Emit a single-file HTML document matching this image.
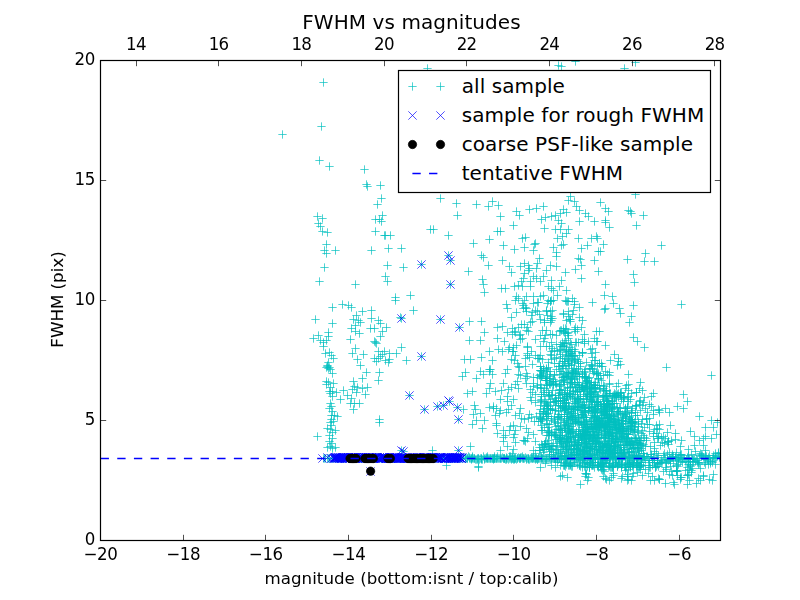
<!DOCTYPE html>
<html><head><meta charset="utf-8"><title>FWHM vs magnitudes</title>
<style>
html,body{margin:0;padding:0;background:#fff;}
svg{display:block;}
text{font-family:"DejaVu Sans","Liberation Sans",sans-serif;fill:#000;}
.txt{opacity:0.999;}
.t12{font-size:16.67px;}
.t14{font-size:20px;letter-spacing:0.08px;}
</style></head><body>
<svg width="800" height="600" viewBox="0 0 800 600">
<rect width="800" height="600" fill="#fff"/>
<defs><path id="p" d="M-4.17 0H4.17M0-4.17V4.17"/><path id="x" d="M-4.17-4.17L4.17 4.17M-4.17 4.17L4.17-4.17"/><clipPath id="ax"><rect x="100" y="60" width="620.5" height="480.5"/></clipPath></defs>

<g clip-path="url(#ax)">
<g stroke="#00bfbf" stroke-width="0.69" fill="none"><use href="#p" x="427.5" y="68.5"/><use href="#p" x="558.5" y="65.5"/><use href="#p" x="561.5" y="66.5"/><use href="#p" x="624.5" y="68.5"/><use href="#p" x="635.5" y="62.5"/><use href="#p" x="575.5" y="61.5"/><use href="#p" x="323.5" y="82.5"/><use href="#p" x="321.5" y="126.5"/><use href="#p" x="282.5" y="134.5"/><use href="#p" x="319.5" y="160.5"/><use href="#p" x="329.5" y="166.5"/><use href="#p" x="364.5" y="169.5"/><use href="#p" x="366.5" y="184.5"/><use href="#p" x="367.5" y="186.5"/><use href="#p" x="380.5" y="185.5"/><use href="#p" x="381.5" y="198.5"/><use href="#p" x="377.5" y="204.5"/><use href="#p" x="382.5" y="215.5"/><use href="#p" x="375.5" y="219.5"/><use href="#p" x="379.5" y="219.5"/><use href="#p" x="381.5" y="221.5"/><use href="#p" x="375.5" y="231.5"/><use href="#p" x="384.5" y="235.5"/><use href="#p" x="385.5" y="235.5"/><use href="#p" x="390.5" y="235.5"/><use href="#p" x="371.5" y="250.5"/><use href="#p" x="388.5" y="248.5"/><use href="#p" x="401.5" y="248.5"/><use href="#p" x="387.5" y="265.5"/><use href="#p" x="403.5" y="267.5"/><use href="#p" x="385.5" y="276.5"/><use href="#p" x="387.5" y="281.5"/><use href="#p" x="355.5" y="284.5"/><use href="#p" x="395.5" y="297.5"/><use href="#p" x="410.5" y="295.5"/><use href="#p" x="421.5" y="264.5"/><use href="#p" x="430.5" y="229.5"/><use href="#p" x="317.5" y="216.5"/><use href="#p" x="322.5" y="218.5"/><use href="#p" x="318.5" y="223.5"/><use href="#p" x="320.5" y="226.5"/><use href="#p" x="322.5" y="231.5"/><use href="#p" x="327.5" y="232.5"/><use href="#p" x="326.5" y="244.5"/><use href="#p" x="324.5" y="250.5"/><use href="#p" x="326.5" y="253.5"/><use href="#p" x="335.5" y="250.5"/><use href="#p" x="324.5" y="267.5"/><use href="#p" x="319.5" y="281.5"/><use href="#p" x="332.5" y="307.5"/><use href="#p" x="342.5" y="304.5"/><use href="#p" x="348.5" y="305.5"/><use href="#p" x="351.5" y="307.5"/><use href="#p" x="315.5" y="319.5"/><use href="#p" x="332.5" y="323.5"/><use href="#p" x="362.5" y="311.5"/><use href="#p" x="371.5" y="310.5"/><use href="#p" x="371.5" y="318.5"/><use href="#p" x="356.5" y="315.5"/><use href="#p" x="353.5" y="319.5"/><use href="#p" x="358.5" y="320.5"/><use href="#p" x="360.5" y="322.5"/><use href="#p" x="355.5" y="325.5"/><use href="#p" x="351.5" y="328.5"/><use href="#p" x="355.5" y="331.5"/><use href="#p" x="359.5" y="333.5"/><use href="#p" x="350.5" y="339.5"/><use href="#p" x="378.5" y="320.5"/><use href="#p" x="380.5" y="323.5"/><use href="#p" x="370.5" y="328.5"/><use href="#p" x="374.5" y="328.5"/><use href="#p" x="386.5" y="327.5"/><use href="#p" x="382.5" y="331.5"/><use href="#p" x="380.5" y="336.5"/><use href="#p" x="375.5" y="342.5"/><use href="#p" x="376.5" y="343.5"/><use href="#p" x="374.5" y="341.5"/><use href="#p" x="400.5" y="317.5"/><use href="#p" x="413.5" y="310.5"/><use href="#p" x="395.5" y="300.5"/><use href="#p" x="401.5" y="347.5"/><use href="#p" x="406.5" y="360.5"/><use href="#p" x="421.5" y="356.5"/><use href="#p" x="409.5" y="395.5"/><use href="#p" x="424.5" y="409.5"/><use href="#p" x="355.5" y="348.5"/><use href="#p" x="352.5" y="353.5"/><use href="#p" x="363.5" y="354.5"/><use href="#p" x="357.5" y="359.5"/><use href="#p" x="360.5" y="365.5"/><use href="#p" x="366.5" y="372.5"/><use href="#p" x="362.5" y="378.5"/><use href="#p" x="379.5" y="372.5"/><use href="#p" x="378.5" y="380.5"/><use href="#p" x="378.5" y="351.5"/><use href="#p" x="384.5" y="351.5"/><use href="#p" x="382.5" y="354.5"/><use href="#p" x="389.5" y="353.5"/><use href="#p" x="396.5" y="353.5"/><use href="#p" x="374.5" y="358.5"/><use href="#p" x="378.5" y="358.5"/><use href="#p" x="376.5" y="361.5"/><use href="#p" x="385.5" y="360.5"/><use href="#p" x="389.5" y="359.5"/><use href="#p" x="388.5" y="362.5"/><use href="#p" x="380.5" y="356.5"/><use href="#p" x="313.5" y="338.5"/><use href="#p" x="318.5" y="335.5"/><use href="#p" x="328.5" y="332.5"/><use href="#p" x="328.5" y="336.5"/><use href="#p" x="320.5" y="340.5"/><use href="#p" x="323.5" y="342.5"/><use href="#p" x="326.5" y="340.5"/><use href="#p" x="323.5" y="346.5"/><use href="#p" x="325.5" y="353.5"/><use href="#p" x="329.5" y="352.5"/><use href="#p" x="331.5" y="355.5"/><use href="#p" x="333.5" y="358.5"/><use href="#p" x="328.5" y="362.5"/><use href="#p" x="327.5" y="365.5"/><use href="#p" x="326.5" y="367.5"/><use href="#p" x="329.5" y="367.5"/><use href="#p" x="330.5" y="369.5"/><use href="#p" x="327.5" y="366.5"/><use href="#p" x="328.5" y="368.5"/><use href="#p" x="332.5" y="373.5"/><use href="#p" x="326.5" y="381.5"/><use href="#p" x="328.5" y="382.5"/><use href="#p" x="326.5" y="384.5"/><use href="#p" x="333.5" y="383.5"/><use href="#p" x="330.5" y="387.5"/><use href="#p" x="329.5" y="391.5"/><use href="#p" x="332.5" y="391.5"/><use href="#p" x="330.5" y="393.5"/><use href="#p" x="336.5" y="392.5"/><use href="#p" x="332.5" y="396.5"/><use href="#p" x="340.5" y="399.5"/><use href="#p" x="330.5" y="403.5"/><use href="#p" x="331.5" y="406.5"/><use href="#p" x="329.5" y="408.5"/><use href="#p" x="332.5" y="411.5"/><use href="#p" x="331.5" y="415.5"/><use href="#p" x="334.5" y="415.5"/><use href="#p" x="337.5" y="416.5"/><use href="#p" x="331.5" y="419.5"/><use href="#p" x="353.5" y="381.5"/><use href="#p" x="354.5" y="386.5"/><use href="#p" x="357.5" y="387.5"/><use href="#p" x="352.5" y="389.5"/><use href="#p" x="356.5" y="392.5"/><use href="#p" x="362.5" y="388.5"/><use href="#p" x="367.5" y="387.5"/><use href="#p" x="365.5" y="394.5"/><use href="#p" x="343.5" y="390.5"/><use href="#p" x="347.5" y="395.5"/><use href="#p" x="351.5" y="398.5"/><use href="#p" x="350.5" y="403.5"/><use href="#p" x="354.5" y="403.5"/><use href="#p" x="359.5" y="403.5"/><use href="#p" x="353.5" y="409.5"/><use href="#p" x="379.5" y="419.5"/><use href="#p" x="379.5" y="422.5"/><use href="#p" x="317.5" y="436.5"/><use href="#p" x="330.5" y="422.5"/><use href="#p" x="333.5" y="421.5"/><use href="#p" x="327.5" y="428.5"/><use href="#p" x="330.5" y="429.5"/><use href="#p" x="335.5" y="430.5"/><use href="#p" x="332.5" y="432.5"/><use href="#p" x="329.5" y="435.5"/><use href="#p" x="332.5" y="438.5"/><use href="#p" x="327.5" y="447.5"/><use href="#p" x="330.5" y="446.5"/><use href="#p" x="332.5" y="448.5"/><use href="#p" x="335.5" y="447.5"/><use href="#p" x="331.5" y="425.5"/><use href="#p" x="329.5" y="441.5"/><use href="#p" x="331.5" y="443.5"/><use href="#p" x="401.5" y="450.5"/><use href="#p" x="432.5" y="450.5"/><use href="#p" x="446.5" y="465.5"/><use href="#p" x="478.5" y="466.5"/><use href="#p" x="440.5" y="198.5"/><use href="#p" x="456.5" y="203.5"/><use href="#p" x="457.5" y="215.5"/><use href="#p" x="433.5" y="229.5"/><use href="#p" x="448.5" y="235.5"/><use href="#p" x="476.5" y="204.5"/><use href="#p" x="488.5" y="206.5"/><use href="#p" x="492.5" y="201.5"/><use href="#p" x="498.5" y="205.5"/><use href="#p" x="500.5" y="216.5"/><use href="#p" x="473.5" y="243.5"/><use href="#p" x="489.5" y="239.5"/><use href="#p" x="497.5" y="231.5"/><use href="#p" x="500.5" y="231.5"/><use href="#p" x="513.5" y="225.5"/><use href="#p" x="516.5" y="211.5"/><use href="#p" x="519.5" y="215.5"/><use href="#p" x="529.5" y="209.5"/><use href="#p" x="536.5" y="208.5"/><use href="#p" x="543.5" y="206.5"/><use href="#p" x="522.5" y="238.5"/><use href="#p" x="525.5" y="237.5"/><use href="#p" x="544.5" y="228.5"/><use href="#p" x="541.5" y="219.5"/><use href="#p" x="545.5" y="217.5"/><use href="#p" x="551.5" y="216.5"/><use href="#p" x="555.5" y="215.5"/><use href="#p" x="570.5" y="196.5"/><use href="#p" x="568.5" y="200.5"/><use href="#p" x="574.5" y="201.5"/><use href="#p" x="576.5" y="206.5"/><use href="#p" x="563.5" y="209.5"/><use href="#p" x="560.5" y="213.5"/><use href="#p" x="566.5" y="212.5"/><use href="#p" x="558.5" y="220.5"/><use href="#p" x="561.5" y="223.5"/><use href="#p" x="555.5" y="229.5"/><use href="#p" x="560.5" y="229.5"/><use href="#p" x="568.5" y="229.5"/><use href="#p" x="566.5" y="233.5"/><use href="#p" x="557.5" y="238.5"/><use href="#p" x="562.5" y="236.5"/><use href="#p" x="579.5" y="210.5"/><use href="#p" x="585.5" y="213.5"/><use href="#p" x="588.5" y="216.5"/><use href="#p" x="579.5" y="221.5"/><use href="#p" x="578.5" y="238.5"/><use href="#p" x="481.5" y="255.5"/><use href="#p" x="483.5" y="257.5"/><use href="#p" x="488.5" y="265.5"/><use href="#p" x="468.5" y="271.5"/><use href="#p" x="482.5" y="279.5"/><use href="#p" x="483.5" y="284.5"/><use href="#p" x="484.5" y="292.5"/><use href="#p" x="448.5" y="255.5"/><use href="#p" x="450.5" y="260.5"/><use href="#p" x="450.5" y="284.5"/><use href="#p" x="635.5" y="194.5"/><use href="#p" x="600.5" y="202.5"/><use href="#p" x="605.5" y="208.5"/><use href="#p" x="608.5" y="211.5"/><use href="#p" x="628.5" y="210.5"/><use href="#p" x="630.5" y="211.5"/><use href="#p" x="631.5" y="213.5"/><use href="#p" x="643.5" y="215.5"/><use href="#p" x="594.5" y="221.5"/><use href="#p" x="605.5" y="220.5"/><use href="#p" x="605.5" y="222.5"/><use href="#p" x="609.5" y="227.5"/><use href="#p" x="636.5" y="225.5"/><use href="#p" x="596.5" y="236.5"/><use href="#p" x="597.5" y="238.5"/><use href="#p" x="591.5" y="238.5"/><use href="#p" x="603.5" y="244.5"/><use href="#p" x="600.5" y="251.5"/><use href="#p" x="661.5" y="245.5"/><use href="#p" x="645.5" y="253.5"/><use href="#p" x="627.5" y="259.5"/><use href="#p" x="644.5" y="261.5"/><use href="#p" x="654.5" y="261.5"/><use href="#p" x="633.5" y="274.5"/><use href="#p" x="634.5" y="282.5"/><use href="#p" x="605.5" y="284.5"/><use href="#p" x="604.5" y="295.5"/><use href="#p" x="612.5" y="296.5"/><use href="#p" x="681.5" y="304.5"/><use href="#p" x="633.5" y="305.5"/><use href="#p" x="613.5" y="303.5"/><use href="#p" x="619.5" y="308.5"/><use href="#p" x="605.5" y="308.5"/><use href="#p" x="604.5" y="309.5"/><use href="#p" x="620.5" y="313.5"/><use href="#p" x="631.5" y="316.5"/><use href="#p" x="629.5" y="322.5"/><use href="#p" x="592.5" y="302.5"/><use href="#p" x="633.5" y="337.5"/><use href="#p" x="637.5" y="341.5"/><use href="#p" x="644.5" y="347.5"/><use href="#p" x="605.5" y="345.5"/><use href="#p" x="614.5" y="354.5"/><use href="#p" x="618.5" y="358.5"/><use href="#p" x="620.5" y="364.5"/><use href="#p" x="666.5" y="367.5"/><use href="#p" x="711.5" y="375.5"/><use href="#p" x="628.5" y="374.5"/><use href="#p" x="683.5" y="394.5"/><use href="#p" x="687.5" y="401.5"/><use href="#p" x="677.5" y="406.5"/><use href="#p" x="683.5" y="408.5"/><use href="#p" x="665.5" y="408.5"/><use href="#p" x="669.5" y="412.5"/><use href="#p" x="699.5" y="416.5"/><use href="#p" x="472.5" y="424.5"/><use href="#p" x="476.5" y="420.5"/><use href="#p" x="470.5" y="446.5"/><use href="#p" x="478.5" y="467.5"/><use href="#p" x="440.5" y="319.5"/><use href="#p" x="459.5" y="327.5"/><use href="#p" x="437.5" y="406.5"/><use href="#p" x="443.5" y="405.5"/><use href="#p" x="449.5" y="401.5"/><use href="#p" x="457.5" y="407.5"/><use href="#p" x="458.5" y="419.5"/><use href="#p" x="458.5" y="450.5"/><use href="#p" x="403.5" y="451.5"/><use href="#p" x="401.5" y="318.5"/><use href="#p" x="503.5" y="245.5"/><use href="#p" x="514.5" y="249.5"/><use href="#p" x="524.5" y="247.5"/><use href="#p" x="534.5" y="244.5"/><use href="#p" x="535.5" y="243.5"/><use href="#p" x="533.5" y="250.5"/><use href="#p" x="553.5" y="247.5"/><use href="#p" x="556.5" y="252.5"/><use href="#p" x="556.5" y="256.5"/><use href="#p" x="561.5" y="245.5"/><use href="#p" x="563.5" y="244.5"/><use href="#p" x="581.5" y="248.5"/><use href="#p" x="587.5" y="245.5"/><use href="#p" x="578.5" y="258.5"/><use href="#p" x="580.5" y="259.5"/><use href="#p" x="581.5" y="265.5"/><use href="#p" x="594.5" y="260.5"/><use href="#p" x="598.5" y="251.5"/><use href="#p" x="598.5" y="271.5"/><use href="#p" x="575.5" y="269.5"/><use href="#p" x="581.5" y="278.5"/><use href="#p" x="502.5" y="260.5"/><use href="#p" x="509.5" y="266.5"/><use href="#p" x="511.5" y="272.5"/><use href="#p" x="520.5" y="266.5"/><use href="#p" x="524.5" y="263.5"/><use href="#p" x="528.5" y="265.5"/><use href="#p" x="529.5" y="268.5"/><use href="#p" x="539.5" y="258.5"/><use href="#p" x="537.5" y="263.5"/><use href="#p" x="536.5" y="268.5"/><use href="#p" x="550.5" y="265.5"/><use href="#p" x="556.5" y="266.5"/><use href="#p" x="546.5" y="270.5"/><use href="#p" x="565.5" y="272.5"/><use href="#p" x="524.5" y="273.5"/><use href="#p" x="523.5" y="278.5"/><use href="#p" x="533.5" y="276.5"/><use href="#p" x="536.5" y="278.5"/><use href="#p" x="543.5" y="276.5"/><use href="#p" x="540.5" y="281.5"/><use href="#p" x="551.5" y="280.5"/><use href="#p" x="561.5" y="280.5"/><use href="#p" x="518.5" y="285.5"/><use href="#p" x="514.5" y="286.5"/><use href="#p" x="505.5" y="288.5"/><use href="#p" x="501.5" y="288.5"/><use href="#p" x="522.5" y="286.5"/><use href="#p" x="530.5" y="286.5"/><use href="#p" x="548.5" y="286.5"/><use href="#p" x="551.5" y="288.5"/><use href="#p" x="553.5" y="290.5"/><use href="#p" x="559.5" y="286.5"/><use href="#p" x="566.5" y="290.5"/><use href="#p" x="516.5" y="296.5"/><use href="#p" x="518.5" y="298.5"/><use href="#p" x="526.5" y="296.5"/><use href="#p" x="533.5" y="296.5"/><use href="#p" x="540.5" y="296.5"/><use href="#p" x="543.5" y="295.5"/><use href="#p" x="557.5" y="295.5"/><use href="#p" x="572.5" y="298.5"/><use href="#p" x="528.5" y="270.5"/><use href="#p" x="521.5" y="281.5"/><use href="#p" x="530.5" y="281.5"/><use href="#p" x="469.5" y="321.5"/><use href="#p" x="469.5" y="340.5"/><use href="#p" x="464.5" y="359.5"/><use href="#p" x="470.5" y="359.5"/><use href="#p" x="465.5" y="372.5"/><use href="#p" x="462.5" y="376.5"/><use href="#p" x="476.5" y="378.5"/><use href="#p" x="467.5" y="393.5"/><use href="#p" x="472.5" y="391.5"/><use href="#p" x="474.5" y="405.5"/><use href="#p" x="463.5" y="409.5"/><use href="#p" x="475.5" y="409.5"/><use href="#p" x="473.5" y="414.5"/><use href="#p" x="506.5" y="304.5"/><use href="#p" x="515.5" y="300.5"/><use href="#p" x="507.5" y="308.5"/><use href="#p" x="516.5" y="312.5"/><use href="#p" x="511.5" y="317.5"/><use href="#p" x="524.5" y="300.5"/><use href="#p" x="522.5" y="303.5"/><use href="#p" x="533.5" y="303.5"/><use href="#p" x="538.5" y="302.5"/><use href="#p" x="537.5" y="302.5"/><use href="#p" x="523.5" y="305.5"/><use href="#p" x="523.5" y="308.5"/><use href="#p" x="526.5" y="308.5"/><use href="#p" x="525.5" y="307.5"/><use href="#p" x="526.5" y="311.5"/><use href="#p" x="532.5" y="312.5"/><use href="#p" x="537.5" y="311.5"/><use href="#p" x="539.5" y="314.5"/><use href="#p" x="535.5" y="310.5"/><use href="#p" x="531.5" y="315.5"/><use href="#p" x="547.5" y="303.5"/><use href="#p" x="548.5" y="300.5"/><use href="#p" x="551.5" y="300.5"/><use href="#p" x="553.5" y="300.5"/><use href="#p" x="550.5" y="301.5"/><use href="#p" x="550.5" y="301.5"/><use href="#p" x="546.5" y="311.5"/><use href="#p" x="546.5" y="310.5"/><use href="#p" x="552.5" y="310.5"/><use href="#p" x="550.5" y="311.5"/><use href="#p" x="540.5" y="319.5"/><use href="#p" x="547.5" y="315.5"/><use href="#p" x="551.5" y="316.5"/><use href="#p" x="550.5" y="318.5"/><use href="#p" x="552.5" y="318.5"/><use href="#p" x="568.5" y="301.5"/><use href="#p" x="567.5" y="301.5"/><use href="#p" x="565.5" y="300.5"/><use href="#p" x="566.5" y="301.5"/><use href="#p" x="574.5" y="304.5"/><use href="#p" x="574.5" y="301.5"/><use href="#p" x="579.5" y="307.5"/><use href="#p" x="563.5" y="314.5"/><use href="#p" x="563.5" y="313.5"/><use href="#p" x="568.5" y="311.5"/><use href="#p" x="572.5" y="314.5"/><use href="#p" x="573.5" y="310.5"/><use href="#p" x="569.5" y="319.5"/><use href="#p" x="568.5" y="316.5"/><use href="#p" x="570.5" y="319.5"/><use href="#p" x="579.5" y="317.5"/><use href="#p" x="481.5" y="321.5"/><use href="#p" x="497.5" y="327.5"/><use href="#p" x="484.5" y="332.5"/><use href="#p" x="497.5" y="338.5"/><use href="#p" x="502.5" y="326.5"/><use href="#p" x="512.5" y="328.5"/><use href="#p" x="518.5" y="327.5"/><use href="#p" x="507.5" y="332.5"/><use href="#p" x="514.5" y="331.5"/><use href="#p" x="512.5" y="334.5"/><use href="#p" x="515.5" y="332.5"/><use href="#p" x="519.5" y="335.5"/><use href="#p" x="524.5" y="324.5"/><use href="#p" x="521.5" y="324.5"/><use href="#p" x="530.5" y="322.5"/><use href="#p" x="532.5" y="321.5"/><use href="#p" x="527.5" y="327.5"/><use href="#p" x="520.5" y="334.5"/><use href="#p" x="526.5" y="330.5"/><use href="#p" x="528.5" y="331.5"/><use href="#p" x="520.5" y="339.5"/><use href="#p" x="522.5" y="338.5"/><use href="#p" x="535.5" y="339.5"/><use href="#p" x="544.5" y="320.5"/><use href="#p" x="544.5" y="322.5"/><use href="#p" x="550.5" y="322.5"/><use href="#p" x="551.5" y="320.5"/><use href="#p" x="542.5" y="330.5"/><use href="#p" x="546.5" y="330.5"/><use href="#p" x="552.5" y="334.5"/><use href="#p" x="550.5" y="334.5"/><use href="#p" x="559.5" y="331.5"/><use href="#p" x="544.5" y="338.5"/><use href="#p" x="540.5" y="335.5"/><use href="#p" x="545.5" y="335.5"/><use href="#p" x="556.5" y="335.5"/><use href="#p" x="566.5" y="320.5"/><use href="#p" x="570.5" y="321.5"/><use href="#p" x="563.5" y="328.5"/><use href="#p" x="566.5" y="329.5"/><use href="#p" x="565.5" y="328.5"/><use href="#p" x="574.5" y="329.5"/><use href="#p" x="575.5" y="327.5"/><use href="#p" x="577.5" y="329.5"/><use href="#p" x="563.5" y="331.5"/><use href="#p" x="560.5" y="330.5"/><use href="#p" x="561.5" y="330.5"/><use href="#p" x="564.5" y="332.5"/><use href="#p" x="565.5" y="333.5"/><use href="#p" x="568.5" y="332.5"/><use href="#p" x="567.5" y="333.5"/><use href="#p" x="575.5" y="331.5"/><use href="#p" x="568.5" y="338.5"/><use href="#p" x="568.5" y="335.5"/><use href="#p" x="582.5" y="320.5"/><use href="#p" x="581.5" y="327.5"/><use href="#p" x="584.5" y="334.5"/><use href="#p" x="596.5" y="331.5"/><use href="#p" x="599.5" y="331.5"/><use href="#p" x="582.5" y="339.5"/><use href="#p" x="594.5" y="338.5"/><use href="#p" x="480.5" y="340.5"/><use href="#p" x="498.5" y="349.5"/><use href="#p" x="489.5" y="351.5"/><use href="#p" x="481.5" y="357.5"/><use href="#p" x="504.5" y="341.5"/><use href="#p" x="508.5" y="349.5"/><use href="#p" x="509.5" y="347.5"/><use href="#p" x="513.5" y="347.5"/><use href="#p" x="516.5" y="345.5"/><use href="#p" x="502.5" y="351.5"/><use href="#p" x="513.5" y="351.5"/><use href="#p" x="512.5" y="351.5"/><use href="#p" x="511.5" y="359.5"/><use href="#p" x="515.5" y="355.5"/><use href="#p" x="527.5" y="347.5"/><use href="#p" x="527.5" y="346.5"/><use href="#p" x="527.5" y="353.5"/><use href="#p" x="531.5" y="351.5"/><use href="#p" x="525.5" y="358.5"/><use href="#p" x="529.5" y="357.5"/><use href="#p" x="527.5" y="355.5"/><use href="#p" x="535.5" y="355.5"/><use href="#p" x="537.5" y="358.5"/><use href="#p" x="539.5" y="358.5"/><use href="#p" x="538.5" y="358.5"/><use href="#p" x="543.5" y="341.5"/><use href="#p" x="551.5" y="342.5"/><use href="#p" x="556.5" y="344.5"/><use href="#p" x="540.5" y="346.5"/><use href="#p" x="549.5" y="346.5"/><use href="#p" x="546.5" y="346.5"/><use href="#p" x="552.5" y="348.5"/><use href="#p" x="550.5" y="354.5"/><use href="#p" x="554.5" y="350.5"/><use href="#p" x="551.5" y="351.5"/><use href="#p" x="557.5" y="351.5"/><use href="#p" x="559.5" y="350.5"/><use href="#p" x="542.5" y="359.5"/><use href="#p" x="540.5" y="355.5"/><use href="#p" x="551.5" y="359.5"/><use href="#p" x="551.5" y="355.5"/><use href="#p" x="554.5" y="358.5"/><use href="#p" x="556.5" y="357.5"/><use href="#p" x="562.5" y="342.5"/><use href="#p" x="560.5" y="344.5"/><use href="#p" x="564.5" y="343.5"/><use href="#p" x="566.5" y="343.5"/><use href="#p" x="565.5" y="340.5"/><use href="#p" x="570.5" y="342.5"/><use href="#p" x="571.5" y="344.5"/><use href="#p" x="575.5" y="342.5"/><use href="#p" x="578.5" y="342.5"/><use href="#p" x="576.5" y="342.5"/><use href="#p" x="564.5" y="346.5"/><use href="#p" x="562.5" y="346.5"/><use href="#p" x="563.5" y="345.5"/><use href="#p" x="561.5" y="346.5"/><use href="#p" x="560.5" y="349.5"/><use href="#p" x="569.5" y="347.5"/><use href="#p" x="566.5" y="349.5"/><use href="#p" x="572.5" y="349.5"/><use href="#p" x="574.5" y="349.5"/><use href="#p" x="560.5" y="354.5"/><use href="#p" x="568.5" y="354.5"/><use href="#p" x="565.5" y="352.5"/><use href="#p" x="568.5" y="351.5"/><use href="#p" x="566.5" y="350.5"/><use href="#p" x="566.5" y="351.5"/><use href="#p" x="571.5" y="353.5"/><use href="#p" x="570.5" y="351.5"/><use href="#p" x="571.5" y="353.5"/><use href="#p" x="575.5" y="351.5"/><use href="#p" x="560.5" y="358.5"/><use href="#p" x="562.5" y="356.5"/><use href="#p" x="567.5" y="359.5"/><use href="#p" x="569.5" y="356.5"/><use href="#p" x="565.5" y="358.5"/><use href="#p" x="566.5" y="355.5"/><use href="#p" x="570.5" y="355.5"/><use href="#p" x="572.5" y="358.5"/><use href="#p" x="574.5" y="355.5"/><use href="#p" x="573.5" y="356.5"/><use href="#p" x="572.5" y="355.5"/><use href="#p" x="577.5" y="359.5"/><use href="#p" x="579.5" y="355.5"/><use href="#p" x="575.5" y="359.5"/><use href="#p" x="584.5" y="341.5"/><use href="#p" x="584.5" y="343.5"/><use href="#p" x="588.5" y="341.5"/><use href="#p" x="596.5" y="341.5"/><use href="#p" x="597.5" y="341.5"/><use href="#p" x="592.5" y="348.5"/><use href="#p" x="590.5" y="349.5"/><use href="#p" x="582.5" y="352.5"/><use href="#p" x="582.5" y="353.5"/><use href="#p" x="582.5" y="352.5"/><use href="#p" x="591.5" y="353.5"/><use href="#p" x="595.5" y="352.5"/><use href="#p" x="592.5" y="357.5"/><use href="#p" x="492.5" y="360.5"/><use href="#p" x="489.5" y="369.5"/><use href="#p" x="490.5" y="369.5"/><use href="#p" x="483.5" y="374.5"/><use href="#p" x="480.5" y="371.5"/><use href="#p" x="489.5" y="371.5"/><use href="#p" x="492.5" y="374.5"/><use href="#p" x="514.5" y="360.5"/><use href="#p" x="517.5" y="363.5"/><use href="#p" x="507.5" y="369.5"/><use href="#p" x="518.5" y="366.5"/><use href="#p" x="519.5" y="367.5"/><use href="#p" x="505.5" y="373.5"/><use href="#p" x="518.5" y="374.5"/><use href="#p" x="532.5" y="364.5"/><use href="#p" x="525.5" y="366.5"/><use href="#p" x="526.5" y="373.5"/><use href="#p" x="520.5" y="375.5"/><use href="#p" x="527.5" y="376.5"/><use href="#p" x="525.5" y="378.5"/><use href="#p" x="533.5" y="377.5"/><use href="#p" x="539.5" y="375.5"/><use href="#p" x="537.5" y="377.5"/><use href="#p" x="548.5" y="362.5"/><use href="#p" x="554.5" y="363.5"/><use href="#p" x="559.5" y="363.5"/><use href="#p" x="540.5" y="366.5"/><use href="#p" x="540.5" y="366.5"/><use href="#p" x="543.5" y="368.5"/><use href="#p" x="548.5" y="367.5"/><use href="#p" x="546.5" y="368.5"/><use href="#p" x="546.5" y="369.5"/><use href="#p" x="558.5" y="366.5"/><use href="#p" x="559.5" y="366.5"/><use href="#p" x="556.5" y="369.5"/><use href="#p" x="543.5" y="372.5"/><use href="#p" x="541.5" y="371.5"/><use href="#p" x="543.5" y="370.5"/><use href="#p" x="540.5" y="370.5"/><use href="#p" x="540.5" y="374.5"/><use href="#p" x="541.5" y="370.5"/><use href="#p" x="540.5" y="370.5"/><use href="#p" x="543.5" y="373.5"/><use href="#p" x="547.5" y="371.5"/><use href="#p" x="549.5" y="374.5"/><use href="#p" x="554.5" y="374.5"/><use href="#p" x="550.5" y="371.5"/><use href="#p" x="559.5" y="374.5"/><use href="#p" x="540.5" y="378.5"/><use href="#p" x="541.5" y="376.5"/><use href="#p" x="542.5" y="375.5"/><use href="#p" x="541.5" y="376.5"/><use href="#p" x="549.5" y="378.5"/><use href="#p" x="545.5" y="377.5"/><use href="#p" x="547.5" y="378.5"/><use href="#p" x="546.5" y="378.5"/><use href="#p" x="554.5" y="375.5"/><use href="#p" x="550.5" y="376.5"/><use href="#p" x="553.5" y="379.5"/><use href="#p" x="562.5" y="361.5"/><use href="#p" x="564.5" y="361.5"/><use href="#p" x="564.5" y="361.5"/><use href="#p" x="568.5" y="360.5"/><use href="#p" x="568.5" y="363.5"/><use href="#p" x="568.5" y="363.5"/><use href="#p" x="574.5" y="360.5"/><use href="#p" x="571.5" y="361.5"/><use href="#p" x="574.5" y="362.5"/><use href="#p" x="571.5" y="364.5"/><use href="#p" x="578.5" y="363.5"/><use href="#p" x="578.5" y="361.5"/><use href="#p" x="563.5" y="365.5"/><use href="#p" x="562.5" y="368.5"/><use href="#p" x="562.5" y="365.5"/><use href="#p" x="566.5" y="368.5"/><use href="#p" x="569.5" y="365.5"/><use href="#p" x="565.5" y="366.5"/><use href="#p" x="571.5" y="365.5"/><use href="#p" x="574.5" y="368.5"/><use href="#p" x="576.5" y="369.5"/><use href="#p" x="578.5" y="368.5"/><use href="#p" x="561.5" y="371.5"/><use href="#p" x="560.5" y="371.5"/><use href="#p" x="563.5" y="373.5"/><use href="#p" x="568.5" y="372.5"/><use href="#p" x="568.5" y="374.5"/><use href="#p" x="567.5" y="372.5"/><use href="#p" x="573.5" y="373.5"/><use href="#p" x="572.5" y="371.5"/><use href="#p" x="573.5" y="370.5"/><use href="#p" x="572.5" y="373.5"/><use href="#p" x="573.5" y="373.5"/><use href="#p" x="571.5" y="372.5"/><use href="#p" x="572.5" y="373.5"/><use href="#p" x="578.5" y="371.5"/><use href="#p" x="577.5" y="374.5"/><use href="#p" x="575.5" y="372.5"/><use href="#p" x="575.5" y="373.5"/><use href="#p" x="563.5" y="377.5"/><use href="#p" x="563.5" y="379.5"/><use href="#p" x="562.5" y="377.5"/><use href="#p" x="564.5" y="376.5"/><use href="#p" x="565.5" y="376.5"/><use href="#p" x="566.5" y="375.5"/><use href="#p" x="567.5" y="377.5"/><use href="#p" x="568.5" y="376.5"/><use href="#p" x="566.5" y="376.5"/><use href="#p" x="570.5" y="378.5"/><use href="#p" x="574.5" y="378.5"/><use href="#p" x="572.5" y="377.5"/><use href="#p" x="571.5" y="379.5"/><use href="#p" x="571.5" y="378.5"/><use href="#p" x="574.5" y="379.5"/><use href="#p" x="579.5" y="376.5"/><use href="#p" x="579.5" y="376.5"/><use href="#p" x="576.5" y="376.5"/><use href="#p" x="580.5" y="363.5"/><use href="#p" x="586.5" y="362.5"/><use href="#p" x="591.5" y="364.5"/><use href="#p" x="594.5" y="360.5"/><use href="#p" x="599.5" y="363.5"/><use href="#p" x="595.5" y="360.5"/><use href="#p" x="599.5" y="363.5"/><use href="#p" x="580.5" y="366.5"/><use href="#p" x="589.5" y="368.5"/><use href="#p" x="585.5" y="369.5"/><use href="#p" x="590.5" y="368.5"/><use href="#p" x="592.5" y="368.5"/><use href="#p" x="592.5" y="369.5"/><use href="#p" x="592.5" y="366.5"/><use href="#p" x="591.5" y="365.5"/><use href="#p" x="597.5" y="365.5"/><use href="#p" x="584.5" y="372.5"/><use href="#p" x="582.5" y="373.5"/><use href="#p" x="584.5" y="371.5"/><use href="#p" x="582.5" y="374.5"/><use href="#p" x="593.5" y="373.5"/><use href="#p" x="594.5" y="371.5"/><use href="#p" x="598.5" y="373.5"/><use href="#p" x="596.5" y="374.5"/><use href="#p" x="596.5" y="372.5"/><use href="#p" x="597.5" y="373.5"/><use href="#p" x="584.5" y="376.5"/><use href="#p" x="584.5" y="377.5"/><use href="#p" x="582.5" y="376.5"/><use href="#p" x="586.5" y="377.5"/><use href="#p" x="588.5" y="378.5"/><use href="#p" x="585.5" y="378.5"/><use href="#p" x="589.5" y="377.5"/><use href="#p" x="585.5" y="376.5"/><use href="#p" x="598.5" y="379.5"/><use href="#p" x="598.5" y="378.5"/><use href="#p" x="598.5" y="378.5"/><use href="#p" x="601.5" y="363.5"/><use href="#p" x="610.5" y="360.5"/><use href="#p" x="618.5" y="361.5"/><use href="#p" x="601.5" y="366.5"/><use href="#p" x="602.5" y="366.5"/><use href="#p" x="617.5" y="365.5"/><use href="#p" x="605.5" y="371.5"/><use href="#p" x="607.5" y="374.5"/><use href="#p" x="609.5" y="372.5"/><use href="#p" x="600.5" y="375.5"/><use href="#p" x="603.5" y="375.5"/><use href="#p" x="609.5" y="375.5"/><use href="#p" x="490.5" y="383.5"/><use href="#p" x="489.5" y="388.5"/><use href="#p" x="486.5" y="393.5"/><use href="#p" x="495.5" y="391.5"/><use href="#p" x="503.5" y="383.5"/><use href="#p" x="517.5" y="381.5"/><use href="#p" x="515.5" y="384.5"/><use href="#p" x="508.5" y="389.5"/><use href="#p" x="511.5" y="387.5"/><use href="#p" x="518.5" y="388.5"/><use href="#p" x="501.5" y="390.5"/><use href="#p" x="500.5" y="399.5"/><use href="#p" x="507.5" y="396.5"/><use href="#p" x="513.5" y="399.5"/><use href="#p" x="526.5" y="383.5"/><use href="#p" x="533.5" y="383.5"/><use href="#p" x="530.5" y="389.5"/><use href="#p" x="533.5" y="386.5"/><use href="#p" x="537.5" y="387.5"/><use href="#p" x="537.5" y="385.5"/><use href="#p" x="532.5" y="392.5"/><use href="#p" x="535.5" y="394.5"/><use href="#p" x="530.5" y="397.5"/><use href="#p" x="540.5" y="384.5"/><use href="#p" x="549.5" y="383.5"/><use href="#p" x="549.5" y="384.5"/><use href="#p" x="546.5" y="380.5"/><use href="#p" x="546.5" y="380.5"/><use href="#p" x="545.5" y="380.5"/><use href="#p" x="552.5" y="381.5"/><use href="#p" x="550.5" y="384.5"/><use href="#p" x="551.5" y="382.5"/><use href="#p" x="553.5" y="384.5"/><use href="#p" x="553.5" y="381.5"/><use href="#p" x="555.5" y="381.5"/><use href="#p" x="556.5" y="384.5"/><use href="#p" x="559.5" y="384.5"/><use href="#p" x="555.5" y="383.5"/><use href="#p" x="540.5" y="388.5"/><use href="#p" x="544.5" y="388.5"/><use href="#p" x="541.5" y="387.5"/><use href="#p" x="546.5" y="385.5"/><use href="#p" x="547.5" y="385.5"/><use href="#p" x="553.5" y="385.5"/><use href="#p" x="559.5" y="386.5"/><use href="#p" x="559.5" y="389.5"/><use href="#p" x="544.5" y="394.5"/><use href="#p" x="543.5" y="392.5"/><use href="#p" x="541.5" y="394.5"/><use href="#p" x="546.5" y="390.5"/><use href="#p" x="548.5" y="392.5"/><use href="#p" x="552.5" y="390.5"/><use href="#p" x="551.5" y="394.5"/><use href="#p" x="559.5" y="390.5"/><use href="#p" x="559.5" y="390.5"/><use href="#p" x="559.5" y="393.5"/><use href="#p" x="541.5" y="396.5"/><use href="#p" x="541.5" y="399.5"/><use href="#p" x="549.5" y="395.5"/><use href="#p" x="548.5" y="396.5"/><use href="#p" x="549.5" y="395.5"/><use href="#p" x="550.5" y="399.5"/><use href="#p" x="552.5" y="395.5"/><use href="#p" x="555.5" y="398.5"/><use href="#p" x="558.5" y="395.5"/><use href="#p" x="555.5" y="395.5"/><use href="#p" x="558.5" y="397.5"/><use href="#p" x="561.5" y="380.5"/><use href="#p" x="563.5" y="382.5"/><use href="#p" x="563.5" y="380.5"/><use href="#p" x="564.5" y="381.5"/><use href="#p" x="564.5" y="384.5"/><use href="#p" x="569.5" y="382.5"/><use href="#p" x="571.5" y="382.5"/><use href="#p" x="570.5" y="382.5"/><use href="#p" x="572.5" y="382.5"/><use href="#p" x="570.5" y="383.5"/><use href="#p" x="574.5" y="384.5"/><use href="#p" x="579.5" y="384.5"/><use href="#p" x="577.5" y="382.5"/><use href="#p" x="577.5" y="382.5"/><use href="#p" x="575.5" y="384.5"/><use href="#p" x="561.5" y="389.5"/><use href="#p" x="560.5" y="385.5"/><use href="#p" x="567.5" y="387.5"/><use href="#p" x="567.5" y="388.5"/><use href="#p" x="570.5" y="387.5"/><use href="#p" x="572.5" y="386.5"/><use href="#p" x="570.5" y="387.5"/><use href="#p" x="578.5" y="385.5"/><use href="#p" x="579.5" y="389.5"/><use href="#p" x="576.5" y="387.5"/><use href="#p" x="579.5" y="387.5"/><use href="#p" x="562.5" y="394.5"/><use href="#p" x="564.5" y="394.5"/><use href="#p" x="564.5" y="394.5"/><use href="#p" x="560.5" y="392.5"/><use href="#p" x="564.5" y="394.5"/><use href="#p" x="567.5" y="392.5"/><use href="#p" x="565.5" y="390.5"/><use href="#p" x="569.5" y="393.5"/><use href="#p" x="569.5" y="393.5"/><use href="#p" x="569.5" y="394.5"/><use href="#p" x="573.5" y="391.5"/><use href="#p" x="572.5" y="394.5"/><use href="#p" x="573.5" y="391.5"/><use href="#p" x="577.5" y="394.5"/><use href="#p" x="577.5" y="391.5"/><use href="#p" x="577.5" y="392.5"/><use href="#p" x="575.5" y="390.5"/><use href="#p" x="575.5" y="391.5"/><use href="#p" x="577.5" y="391.5"/><use href="#p" x="564.5" y="398.5"/><use href="#p" x="562.5" y="398.5"/><use href="#p" x="566.5" y="396.5"/><use href="#p" x="567.5" y="396.5"/><use href="#p" x="567.5" y="395.5"/><use href="#p" x="566.5" y="399.5"/><use href="#p" x="566.5" y="397.5"/><use href="#p" x="567.5" y="396.5"/><use href="#p" x="574.5" y="397.5"/><use href="#p" x="570.5" y="396.5"/><use href="#p" x="572.5" y="398.5"/><use href="#p" x="570.5" y="396.5"/><use href="#p" x="579.5" y="399.5"/><use href="#p" x="577.5" y="398.5"/><use href="#p" x="578.5" y="398.5"/><use href="#p" x="577.5" y="398.5"/><use href="#p" x="578.5" y="399.5"/><use href="#p" x="575.5" y="399.5"/><use href="#p" x="586.5" y="382.5"/><use href="#p" x="587.5" y="383.5"/><use href="#p" x="586.5" y="381.5"/><use href="#p" x="587.5" y="381.5"/><use href="#p" x="586.5" y="383.5"/><use href="#p" x="589.5" y="382.5"/><use href="#p" x="587.5" y="380.5"/><use href="#p" x="586.5" y="380.5"/><use href="#p" x="591.5" y="384.5"/><use href="#p" x="594.5" y="384.5"/><use href="#p" x="591.5" y="382.5"/><use href="#p" x="595.5" y="382.5"/><use href="#p" x="582.5" y="386.5"/><use href="#p" x="584.5" y="388.5"/><use href="#p" x="582.5" y="385.5"/><use href="#p" x="581.5" y="387.5"/><use href="#p" x="582.5" y="387.5"/><use href="#p" x="584.5" y="389.5"/><use href="#p" x="582.5" y="387.5"/><use href="#p" x="583.5" y="389.5"/><use href="#p" x="581.5" y="387.5"/><use href="#p" x="589.5" y="388.5"/><use href="#p" x="589.5" y="389.5"/><use href="#p" x="589.5" y="387.5"/><use href="#p" x="585.5" y="386.5"/><use href="#p" x="587.5" y="387.5"/><use href="#p" x="585.5" y="385.5"/><use href="#p" x="592.5" y="388.5"/><use href="#p" x="591.5" y="388.5"/><use href="#p" x="590.5" y="386.5"/><use href="#p" x="594.5" y="387.5"/><use href="#p" x="593.5" y="385.5"/><use href="#p" x="597.5" y="385.5"/><use href="#p" x="595.5" y="388.5"/><use href="#p" x="595.5" y="385.5"/><use href="#p" x="595.5" y="387.5"/><use href="#p" x="599.5" y="388.5"/><use href="#p" x="599.5" y="385.5"/><use href="#p" x="583.5" y="391.5"/><use href="#p" x="580.5" y="391.5"/><use href="#p" x="585.5" y="394.5"/><use href="#p" x="587.5" y="394.5"/><use href="#p" x="587.5" y="393.5"/><use href="#p" x="586.5" y="390.5"/><use href="#p" x="589.5" y="394.5"/><use href="#p" x="591.5" y="393.5"/><use href="#p" x="591.5" y="391.5"/><use href="#p" x="594.5" y="392.5"/><use href="#p" x="593.5" y="391.5"/><use href="#p" x="590.5" y="391.5"/><use href="#p" x="590.5" y="394.5"/><use href="#p" x="591.5" y="392.5"/><use href="#p" x="590.5" y="392.5"/><use href="#p" x="595.5" y="394.5"/><use href="#p" x="596.5" y="391.5"/><use href="#p" x="583.5" y="396.5"/><use href="#p" x="580.5" y="398.5"/><use href="#p" x="580.5" y="396.5"/><use href="#p" x="586.5" y="398.5"/><use href="#p" x="586.5" y="399.5"/><use href="#p" x="586.5" y="399.5"/><use href="#p" x="587.5" y="396.5"/><use href="#p" x="587.5" y="395.5"/><use href="#p" x="591.5" y="399.5"/><use href="#p" x="590.5" y="397.5"/><use href="#p" x="592.5" y="396.5"/><use href="#p" x="593.5" y="396.5"/><use href="#p" x="593.5" y="397.5"/><use href="#p" x="591.5" y="396.5"/><use href="#p" x="598.5" y="395.5"/><use href="#p" x="597.5" y="396.5"/><use href="#p" x="597.5" y="396.5"/><use href="#p" x="601.5" y="380.5"/><use href="#p" x="609.5" y="383.5"/><use href="#p" x="609.5" y="384.5"/><use href="#p" x="618.5" y="383.5"/><use href="#p" x="604.5" y="386.5"/><use href="#p" x="603.5" y="385.5"/><use href="#p" x="600.5" y="389.5"/><use href="#p" x="603.5" y="388.5"/><use href="#p" x="616.5" y="386.5"/><use href="#p" x="603.5" y="390.5"/><use href="#p" x="606.5" y="390.5"/><use href="#p" x="609.5" y="393.5"/><use href="#p" x="606.5" y="390.5"/><use href="#p" x="609.5" y="393.5"/><use href="#p" x="605.5" y="391.5"/><use href="#p" x="614.5" y="393.5"/><use href="#p" x="610.5" y="393.5"/><use href="#p" x="615.5" y="394.5"/><use href="#p" x="617.5" y="394.5"/><use href="#p" x="618.5" y="393.5"/><use href="#p" x="602.5" y="397.5"/><use href="#p" x="604.5" y="395.5"/><use href="#p" x="603.5" y="395.5"/><use href="#p" x="603.5" y="399.5"/><use href="#p" x="605.5" y="396.5"/><use href="#p" x="607.5" y="396.5"/><use href="#p" x="606.5" y="395.5"/><use href="#p" x="608.5" y="398.5"/><use href="#p" x="606.5" y="396.5"/><use href="#p" x="614.5" y="395.5"/><use href="#p" x="612.5" y="396.5"/><use href="#p" x="614.5" y="397.5"/><use href="#p" x="613.5" y="395.5"/><use href="#p" x="616.5" y="396.5"/><use href="#p" x="616.5" y="395.5"/><use href="#p" x="616.5" y="395.5"/><use href="#p" x="618.5" y="397.5"/><use href="#p" x="615.5" y="396.5"/><use href="#p" x="628.5" y="384.5"/><use href="#p" x="625.5" y="388.5"/><use href="#p" x="626.5" y="385.5"/><use href="#p" x="639.5" y="388.5"/><use href="#p" x="621.5" y="392.5"/><use href="#p" x="620.5" y="393.5"/><use href="#p" x="620.5" y="392.5"/><use href="#p" x="628.5" y="390.5"/><use href="#p" x="631.5" y="393.5"/><use href="#p" x="636.5" y="392.5"/><use href="#p" x="636.5" y="392.5"/><use href="#p" x="623.5" y="398.5"/><use href="#p" x="621.5" y="397.5"/><use href="#p" x="624.5" y="397.5"/><use href="#p" x="623.5" y="396.5"/><use href="#p" x="621.5" y="399.5"/><use href="#p" x="620.5" y="395.5"/><use href="#p" x="628.5" y="396.5"/><use href="#p" x="627.5" y="397.5"/><use href="#p" x="630.5" y="399.5"/><use href="#p" x="640.5" y="382.5"/><use href="#p" x="642.5" y="390.5"/><use href="#p" x="653.5" y="393.5"/><use href="#p" x="644.5" y="397.5"/><use href="#p" x="651.5" y="396.5"/><use href="#p" x="489.5" y="407.5"/><use href="#p" x="493.5" y="406.5"/><use href="#p" x="493.5" y="408.5"/><use href="#p" x="496.5" y="408.5"/><use href="#p" x="480.5" y="413.5"/><use href="#p" x="499.5" y="413.5"/><use href="#p" x="495.5" y="415.5"/><use href="#p" x="507.5" y="401.5"/><use href="#p" x="508.5" y="409.5"/><use href="#p" x="511.5" y="405.5"/><use href="#p" x="500.5" y="410.5"/><use href="#p" x="506.5" y="412.5"/><use href="#p" x="519.5" y="413.5"/><use href="#p" x="515.5" y="415.5"/><use href="#p" x="531.5" y="400.5"/><use href="#p" x="535.5" y="402.5"/><use href="#p" x="520.5" y="408.5"/><use href="#p" x="529.5" y="414.5"/><use href="#p" x="539.5" y="413.5"/><use href="#p" x="521.5" y="418.5"/><use href="#p" x="524.5" y="419.5"/><use href="#p" x="528.5" y="418.5"/><use href="#p" x="531.5" y="417.5"/><use href="#p" x="536.5" y="416.5"/><use href="#p" x="541.5" y="401.5"/><use href="#p" x="540.5" y="400.5"/><use href="#p" x="544.5" y="402.5"/><use href="#p" x="545.5" y="401.5"/><use href="#p" x="546.5" y="403.5"/><use href="#p" x="547.5" y="404.5"/><use href="#p" x="550.5" y="402.5"/><use href="#p" x="554.5" y="401.5"/><use href="#p" x="553.5" y="402.5"/><use href="#p" x="556.5" y="400.5"/><use href="#p" x="555.5" y="401.5"/><use href="#p" x="558.5" y="401.5"/><use href="#p" x="556.5" y="401.5"/><use href="#p" x="544.5" y="408.5"/><use href="#p" x="540.5" y="409.5"/><use href="#p" x="544.5" y="406.5"/><use href="#p" x="540.5" y="405.5"/><use href="#p" x="548.5" y="408.5"/><use href="#p" x="547.5" y="408.5"/><use href="#p" x="546.5" y="405.5"/><use href="#p" x="547.5" y="405.5"/><use href="#p" x="548.5" y="406.5"/><use href="#p" x="550.5" y="409.5"/><use href="#p" x="552.5" y="409.5"/><use href="#p" x="550.5" y="408.5"/><use href="#p" x="555.5" y="405.5"/><use href="#p" x="558.5" y="405.5"/><use href="#p" x="543.5" y="411.5"/><use href="#p" x="543.5" y="411.5"/><use href="#p" x="543.5" y="413.5"/><use href="#p" x="543.5" y="411.5"/><use href="#p" x="543.5" y="414.5"/><use href="#p" x="545.5" y="412.5"/><use href="#p" x="548.5" y="413.5"/><use href="#p" x="546.5" y="414.5"/><use href="#p" x="546.5" y="413.5"/><use href="#p" x="550.5" y="410.5"/><use href="#p" x="555.5" y="410.5"/><use href="#p" x="558.5" y="414.5"/><use href="#p" x="555.5" y="410.5"/><use href="#p" x="558.5" y="411.5"/><use href="#p" x="541.5" y="419.5"/><use href="#p" x="540.5" y="418.5"/><use href="#p" x="540.5" y="418.5"/><use href="#p" x="542.5" y="419.5"/><use href="#p" x="540.5" y="417.5"/><use href="#p" x="546.5" y="416.5"/><use href="#p" x="547.5" y="416.5"/><use href="#p" x="546.5" y="418.5"/><use href="#p" x="548.5" y="416.5"/><use href="#p" x="554.5" y="419.5"/><use href="#p" x="551.5" y="418.5"/><use href="#p" x="554.5" y="416.5"/><use href="#p" x="558.5" y="417.5"/><use href="#p" x="557.5" y="417.5"/><use href="#p" x="559.5" y="416.5"/><use href="#p" x="560.5" y="400.5"/><use href="#p" x="564.5" y="400.5"/><use href="#p" x="564.5" y="400.5"/><use href="#p" x="563.5" y="400.5"/><use href="#p" x="560.5" y="403.5"/><use href="#p" x="560.5" y="401.5"/><use href="#p" x="564.5" y="403.5"/><use href="#p" x="568.5" y="403.5"/><use href="#p" x="565.5" y="402.5"/><use href="#p" x="566.5" y="402.5"/><use href="#p" x="574.5" y="401.5"/><use href="#p" x="575.5" y="403.5"/><use href="#p" x="575.5" y="403.5"/><use href="#p" x="577.5" y="400.5"/><use href="#p" x="576.5" y="402.5"/><use href="#p" x="560.5" y="406.5"/><use href="#p" x="560.5" y="405.5"/><use href="#p" x="562.5" y="407.5"/><use href="#p" x="562.5" y="406.5"/><use href="#p" x="560.5" y="408.5"/><use href="#p" x="563.5" y="407.5"/><use href="#p" x="566.5" y="407.5"/><use href="#p" x="565.5" y="409.5"/><use href="#p" x="565.5" y="408.5"/><use href="#p" x="569.5" y="406.5"/><use href="#p" x="568.5" y="406.5"/><use href="#p" x="566.5" y="405.5"/><use href="#p" x="565.5" y="409.5"/><use href="#p" x="568.5" y="409.5"/><use href="#p" x="565.5" y="408.5"/><use href="#p" x="573.5" y="409.5"/><use href="#p" x="572.5" y="407.5"/><use href="#p" x="574.5" y="406.5"/><use href="#p" x="573.5" y="408.5"/><use href="#p" x="571.5" y="408.5"/><use href="#p" x="578.5" y="406.5"/><use href="#p" x="579.5" y="407.5"/><use href="#p" x="578.5" y="407.5"/><use href="#p" x="577.5" y="406.5"/><use href="#p" x="575.5" y="409.5"/><use href="#p" x="577.5" y="407.5"/><use href="#p" x="577.5" y="409.5"/><use href="#p" x="564.5" y="414.5"/><use href="#p" x="564.5" y="410.5"/><use href="#p" x="561.5" y="414.5"/><use href="#p" x="564.5" y="410.5"/><use href="#p" x="566.5" y="414.5"/><use href="#p" x="567.5" y="412.5"/><use href="#p" x="573.5" y="413.5"/><use href="#p" x="570.5" y="413.5"/><use href="#p" x="571.5" y="412.5"/><use href="#p" x="571.5" y="411.5"/><use href="#p" x="571.5" y="411.5"/><use href="#p" x="577.5" y="410.5"/><use href="#p" x="561.5" y="419.5"/><use href="#p" x="560.5" y="418.5"/><use href="#p" x="564.5" y="416.5"/><use href="#p" x="567.5" y="416.5"/><use href="#p" x="568.5" y="416.5"/><use href="#p" x="567.5" y="418.5"/><use href="#p" x="569.5" y="416.5"/><use href="#p" x="570.5" y="418.5"/><use href="#p" x="571.5" y="417.5"/><use href="#p" x="572.5" y="419.5"/><use href="#p" x="573.5" y="415.5"/><use href="#p" x="572.5" y="417.5"/><use href="#p" x="572.5" y="419.5"/><use href="#p" x="572.5" y="417.5"/><use href="#p" x="574.5" y="417.5"/><use href="#p" x="578.5" y="417.5"/><use href="#p" x="578.5" y="418.5"/><use href="#p" x="575.5" y="416.5"/><use href="#p" x="575.5" y="419.5"/><use href="#p" x="575.5" y="415.5"/><use href="#p" x="578.5" y="417.5"/><use href="#p" x="583.5" y="402.5"/><use href="#p" x="582.5" y="404.5"/><use href="#p" x="584.5" y="404.5"/><use href="#p" x="580.5" y="401.5"/><use href="#p" x="589.5" y="401.5"/><use href="#p" x="590.5" y="401.5"/><use href="#p" x="594.5" y="404.5"/><use href="#p" x="594.5" y="401.5"/><use href="#p" x="591.5" y="400.5"/><use href="#p" x="592.5" y="401.5"/><use href="#p" x="592.5" y="402.5"/><use href="#p" x="596.5" y="402.5"/><use href="#p" x="597.5" y="402.5"/><use href="#p" x="596.5" y="401.5"/><use href="#p" x="598.5" y="401.5"/><use href="#p" x="598.5" y="404.5"/><use href="#p" x="597.5" y="402.5"/><use href="#p" x="584.5" y="405.5"/><use href="#p" x="582.5" y="405.5"/><use href="#p" x="584.5" y="407.5"/><use href="#p" x="584.5" y="407.5"/><use href="#p" x="583.5" y="408.5"/><use href="#p" x="581.5" y="406.5"/><use href="#p" x="585.5" y="408.5"/><use href="#p" x="589.5" y="407.5"/><use href="#p" x="588.5" y="406.5"/><use href="#p" x="589.5" y="408.5"/><use href="#p" x="594.5" y="406.5"/><use href="#p" x="591.5" y="407.5"/><use href="#p" x="591.5" y="407.5"/><use href="#p" x="595.5" y="406.5"/><use href="#p" x="598.5" y="406.5"/><use href="#p" x="597.5" y="405.5"/><use href="#p" x="597.5" y="408.5"/><use href="#p" x="597.5" y="408.5"/><use href="#p" x="595.5" y="409.5"/><use href="#p" x="595.5" y="409.5"/><use href="#p" x="582.5" y="414.5"/><use href="#p" x="582.5" y="412.5"/><use href="#p" x="580.5" y="410.5"/><use href="#p" x="581.5" y="414.5"/><use href="#p" x="584.5" y="411.5"/><use href="#p" x="584.5" y="410.5"/><use href="#p" x="582.5" y="414.5"/><use href="#p" x="581.5" y="414.5"/><use href="#p" x="588.5" y="410.5"/><use href="#p" x="588.5" y="411.5"/><use href="#p" x="585.5" y="412.5"/><use href="#p" x="585.5" y="412.5"/><use href="#p" x="593.5" y="410.5"/><use href="#p" x="592.5" y="411.5"/><use href="#p" x="591.5" y="413.5"/><use href="#p" x="590.5" y="410.5"/><use href="#p" x="594.5" y="411.5"/><use href="#p" x="597.5" y="412.5"/><use href="#p" x="595.5" y="412.5"/><use href="#p" x="595.5" y="412.5"/><use href="#p" x="597.5" y="411.5"/><use href="#p" x="595.5" y="412.5"/><use href="#p" x="596.5" y="410.5"/><use href="#p" x="584.5" y="417.5"/><use href="#p" x="583.5" y="417.5"/><use href="#p" x="583.5" y="416.5"/><use href="#p" x="583.5" y="415.5"/><use href="#p" x="586.5" y="419.5"/><use href="#p" x="585.5" y="417.5"/><use href="#p" x="586.5" y="417.5"/><use href="#p" x="593.5" y="418.5"/><use href="#p" x="594.5" y="416.5"/><use href="#p" x="594.5" y="417.5"/><use href="#p" x="594.5" y="415.5"/><use href="#p" x="594.5" y="417.5"/><use href="#p" x="592.5" y="415.5"/><use href="#p" x="595.5" y="416.5"/><use href="#p" x="596.5" y="419.5"/><use href="#p" x="599.5" y="418.5"/><use href="#p" x="597.5" y="417.5"/><use href="#p" x="598.5" y="419.5"/><use href="#p" x="603.5" y="401.5"/><use href="#p" x="600.5" y="404.5"/><use href="#p" x="603.5" y="403.5"/><use href="#p" x="600.5" y="404.5"/><use href="#p" x="604.5" y="404.5"/><use href="#p" x="603.5" y="404.5"/><use href="#p" x="609.5" y="403.5"/><use href="#p" x="606.5" y="404.5"/><use href="#p" x="606.5" y="400.5"/><use href="#p" x="607.5" y="401.5"/><use href="#p" x="607.5" y="404.5"/><use href="#p" x="608.5" y="403.5"/><use href="#p" x="606.5" y="403.5"/><use href="#p" x="608.5" y="403.5"/><use href="#p" x="609.5" y="404.5"/><use href="#p" x="607.5" y="400.5"/><use href="#p" x="612.5" y="400.5"/><use href="#p" x="610.5" y="404.5"/><use href="#p" x="612.5" y="403.5"/><use href="#p" x="612.5" y="401.5"/><use href="#p" x="611.5" y="401.5"/><use href="#p" x="614.5" y="403.5"/><use href="#p" x="616.5" y="403.5"/><use href="#p" x="604.5" y="405.5"/><use href="#p" x="601.5" y="409.5"/><use href="#p" x="601.5" y="406.5"/><use href="#p" x="604.5" y="408.5"/><use href="#p" x="604.5" y="406.5"/><use href="#p" x="607.5" y="405.5"/><use href="#p" x="605.5" y="409.5"/><use href="#p" x="607.5" y="409.5"/><use href="#p" x="606.5" y="406.5"/><use href="#p" x="605.5" y="407.5"/><use href="#p" x="609.5" y="407.5"/><use href="#p" x="612.5" y="409.5"/><use href="#p" x="611.5" y="408.5"/><use href="#p" x="613.5" y="406.5"/><use href="#p" x="612.5" y="408.5"/><use href="#p" x="614.5" y="407.5"/><use href="#p" x="619.5" y="408.5"/><use href="#p" x="617.5" y="407.5"/><use href="#p" x="604.5" y="414.5"/><use href="#p" x="600.5" y="412.5"/><use href="#p" x="602.5" y="410.5"/><use href="#p" x="601.5" y="413.5"/><use href="#p" x="603.5" y="411.5"/><use href="#p" x="603.5" y="411.5"/><use href="#p" x="605.5" y="412.5"/><use href="#p" x="609.5" y="413.5"/><use href="#p" x="606.5" y="410.5"/><use href="#p" x="607.5" y="414.5"/><use href="#p" x="605.5" y="413.5"/><use href="#p" x="605.5" y="411.5"/><use href="#p" x="605.5" y="411.5"/><use href="#p" x="606.5" y="414.5"/><use href="#p" x="609.5" y="410.5"/><use href="#p" x="606.5" y="414.5"/><use href="#p" x="611.5" y="411.5"/><use href="#p" x="611.5" y="414.5"/><use href="#p" x="611.5" y="411.5"/><use href="#p" x="618.5" y="412.5"/><use href="#p" x="617.5" y="413.5"/><use href="#p" x="618.5" y="411.5"/><use href="#p" x="616.5" y="414.5"/><use href="#p" x="617.5" y="411.5"/><use href="#p" x="618.5" y="411.5"/><use href="#p" x="601.5" y="415.5"/><use href="#p" x="602.5" y="418.5"/><use href="#p" x="603.5" y="417.5"/><use href="#p" x="604.5" y="415.5"/><use href="#p" x="601.5" y="418.5"/><use href="#p" x="604.5" y="418.5"/><use href="#p" x="609.5" y="417.5"/><use href="#p" x="607.5" y="418.5"/><use href="#p" x="609.5" y="415.5"/><use href="#p" x="606.5" y="415.5"/><use href="#p" x="607.5" y="417.5"/><use href="#p" x="609.5" y="418.5"/><use href="#p" x="607.5" y="417.5"/><use href="#p" x="607.5" y="416.5"/><use href="#p" x="609.5" y="418.5"/><use href="#p" x="613.5" y="418.5"/><use href="#p" x="613.5" y="416.5"/><use href="#p" x="610.5" y="418.5"/><use href="#p" x="614.5" y="416.5"/><use href="#p" x="611.5" y="416.5"/><use href="#p" x="610.5" y="418.5"/><use href="#p" x="614.5" y="419.5"/><use href="#p" x="611.5" y="418.5"/><use href="#p" x="610.5" y="419.5"/><use href="#p" x="611.5" y="415.5"/><use href="#p" x="613.5" y="415.5"/><use href="#p" x="617.5" y="419.5"/><use href="#p" x="615.5" y="419.5"/><use href="#p" x="623.5" y="401.5"/><use href="#p" x="628.5" y="401.5"/><use href="#p" x="639.5" y="404.5"/><use href="#p" x="639.5" y="401.5"/><use href="#p" x="620.5" y="407.5"/><use href="#p" x="627.5" y="406.5"/><use href="#p" x="625.5" y="408.5"/><use href="#p" x="627.5" y="407.5"/><use href="#p" x="625.5" y="408.5"/><use href="#p" x="632.5" y="408.5"/><use href="#p" x="636.5" y="405.5"/><use href="#p" x="636.5" y="405.5"/><use href="#p" x="635.5" y="406.5"/><use href="#p" x="620.5" y="413.5"/><use href="#p" x="622.5" y="414.5"/><use href="#p" x="624.5" y="413.5"/><use href="#p" x="627.5" y="412.5"/><use href="#p" x="626.5" y="411.5"/><use href="#p" x="625.5" y="414.5"/><use href="#p" x="631.5" y="412.5"/><use href="#p" x="631.5" y="410.5"/><use href="#p" x="631.5" y="413.5"/><use href="#p" x="635.5" y="412.5"/><use href="#p" x="623.5" y="415.5"/><use href="#p" x="622.5" y="417.5"/><use href="#p" x="623.5" y="418.5"/><use href="#p" x="629.5" y="417.5"/><use href="#p" x="625.5" y="416.5"/><use href="#p" x="629.5" y="416.5"/><use href="#p" x="626.5" y="418.5"/><use href="#p" x="630.5" y="419.5"/><use href="#p" x="631.5" y="419.5"/><use href="#p" x="635.5" y="415.5"/><use href="#p" x="635.5" y="419.5"/><use href="#p" x="637.5" y="415.5"/><use href="#p" x="643.5" y="402.5"/><use href="#p" x="640.5" y="400.5"/><use href="#p" x="649.5" y="404.5"/><use href="#p" x="642.5" y="405.5"/><use href="#p" x="645.5" y="408.5"/><use href="#p" x="651.5" y="406.5"/><use href="#p" x="658.5" y="409.5"/><use href="#p" x="640.5" y="410.5"/><use href="#p" x="647.5" y="412.5"/><use href="#p" x="653.5" y="414.5"/><use href="#p" x="653.5" y="410.5"/><use href="#p" x="659.5" y="410.5"/><use href="#p" x="659.5" y="412.5"/><use href="#p" x="642.5" y="419.5"/><use href="#p" x="646.5" y="419.5"/><use href="#p" x="646.5" y="418.5"/><use href="#p" x="649.5" y="418.5"/><use href="#p" x="484.5" y="420.5"/><use href="#p" x="496.5" y="423.5"/><use href="#p" x="482.5" y="428.5"/><use href="#p" x="496.5" y="425.5"/><use href="#p" x="497.5" y="433.5"/><use href="#p" x="513.5" y="425.5"/><use href="#p" x="510.5" y="426.5"/><use href="#p" x="503.5" y="430.5"/><use href="#p" x="509.5" y="430.5"/><use href="#p" x="514.5" y="434.5"/><use href="#p" x="515.5" y="430.5"/><use href="#p" x="503.5" y="437.5"/><use href="#p" x="505.5" y="435.5"/><use href="#p" x="513.5" y="437.5"/><use href="#p" x="534.5" y="421.5"/><use href="#p" x="538.5" y="421.5"/><use href="#p" x="520.5" y="426.5"/><use href="#p" x="526.5" y="428.5"/><use href="#p" x="528.5" y="432.5"/><use href="#p" x="533.5" y="434.5"/><use href="#p" x="527.5" y="438.5"/><use href="#p" x="542.5" y="420.5"/><use href="#p" x="540.5" y="421.5"/><use href="#p" x="546.5" y="423.5"/><use href="#p" x="547.5" y="424.5"/><use href="#p" x="549.5" y="424.5"/><use href="#p" x="551.5" y="420.5"/><use href="#p" x="554.5" y="421.5"/><use href="#p" x="557.5" y="423.5"/><use href="#p" x="555.5" y="422.5"/><use href="#p" x="541.5" y="425.5"/><use href="#p" x="544.5" y="427.5"/><use href="#p" x="548.5" y="427.5"/><use href="#p" x="558.5" y="425.5"/><use href="#p" x="559.5" y="429.5"/><use href="#p" x="558.5" y="429.5"/><use href="#p" x="556.5" y="429.5"/><use href="#p" x="555.5" y="426.5"/><use href="#p" x="541.5" y="430.5"/><use href="#p" x="542.5" y="430.5"/><use href="#p" x="548.5" y="430.5"/><use href="#p" x="549.5" y="431.5"/><use href="#p" x="547.5" y="432.5"/><use href="#p" x="549.5" y="432.5"/><use href="#p" x="554.5" y="432.5"/><use href="#p" x="551.5" y="434.5"/><use href="#p" x="551.5" y="432.5"/><use href="#p" x="551.5" y="433.5"/><use href="#p" x="555.5" y="434.5"/><use href="#p" x="548.5" y="435.5"/><use href="#p" x="546.5" y="435.5"/><use href="#p" x="549.5" y="435.5"/><use href="#p" x="554.5" y="435.5"/><use href="#p" x="551.5" y="435.5"/><use href="#p" x="559.5" y="437.5"/><use href="#p" x="555.5" y="439.5"/><use href="#p" x="555.5" y="435.5"/><use href="#p" x="556.5" y="436.5"/><use href="#p" x="559.5" y="439.5"/><use href="#p" x="557.5" y="437.5"/><use href="#p" x="559.5" y="439.5"/><use href="#p" x="563.5" y="422.5"/><use href="#p" x="564.5" y="424.5"/><use href="#p" x="564.5" y="420.5"/><use href="#p" x="566.5" y="421.5"/><use href="#p" x="566.5" y="422.5"/><use href="#p" x="568.5" y="420.5"/><use href="#p" x="568.5" y="423.5"/><use href="#p" x="572.5" y="423.5"/><use href="#p" x="573.5" y="423.5"/><use href="#p" x="570.5" y="424.5"/><use href="#p" x="578.5" y="421.5"/><use href="#p" x="578.5" y="423.5"/><use href="#p" x="575.5" y="421.5"/><use href="#p" x="576.5" y="421.5"/><use href="#p" x="575.5" y="420.5"/><use href="#p" x="577.5" y="422.5"/><use href="#p" x="575.5" y="422.5"/><use href="#p" x="579.5" y="422.5"/><use href="#p" x="560.5" y="428.5"/><use href="#p" x="560.5" y="426.5"/><use href="#p" x="564.5" y="428.5"/><use href="#p" x="564.5" y="428.5"/><use href="#p" x="569.5" y="428.5"/><use href="#p" x="569.5" y="429.5"/><use href="#p" x="567.5" y="425.5"/><use href="#p" x="565.5" y="427.5"/><use href="#p" x="568.5" y="426.5"/><use href="#p" x="565.5" y="425.5"/><use href="#p" x="571.5" y="426.5"/><use href="#p" x="573.5" y="429.5"/><use href="#p" x="579.5" y="429.5"/><use href="#p" x="562.5" y="432.5"/><use href="#p" x="561.5" y="430.5"/><use href="#p" x="560.5" y="430.5"/><use href="#p" x="567.5" y="430.5"/><use href="#p" x="569.5" y="432.5"/><use href="#p" x="565.5" y="430.5"/><use href="#p" x="568.5" y="431.5"/><use href="#p" x="568.5" y="431.5"/><use href="#p" x="568.5" y="434.5"/><use href="#p" x="570.5" y="433.5"/><use href="#p" x="572.5" y="430.5"/><use href="#p" x="570.5" y="432.5"/><use href="#p" x="570.5" y="433.5"/><use href="#p" x="571.5" y="431.5"/><use href="#p" x="572.5" y="432.5"/><use href="#p" x="578.5" y="433.5"/><use href="#p" x="578.5" y="434.5"/><use href="#p" x="576.5" y="431.5"/><use href="#p" x="578.5" y="431.5"/><use href="#p" x="561.5" y="438.5"/><use href="#p" x="560.5" y="438.5"/><use href="#p" x="560.5" y="435.5"/><use href="#p" x="562.5" y="435.5"/><use href="#p" x="564.5" y="439.5"/><use href="#p" x="562.5" y="435.5"/><use href="#p" x="560.5" y="437.5"/><use href="#p" x="566.5" y="437.5"/><use href="#p" x="566.5" y="438.5"/><use href="#p" x="566.5" y="436.5"/><use href="#p" x="567.5" y="438.5"/><use href="#p" x="568.5" y="436.5"/><use href="#p" x="567.5" y="439.5"/><use href="#p" x="574.5" y="439.5"/><use href="#p" x="570.5" y="437.5"/><use href="#p" x="573.5" y="436.5"/><use href="#p" x="570.5" y="438.5"/><use href="#p" x="573.5" y="437.5"/><use href="#p" x="570.5" y="436.5"/><use href="#p" x="578.5" y="435.5"/><use href="#p" x="575.5" y="435.5"/><use href="#p" x="575.5" y="437.5"/><use href="#p" x="581.5" y="424.5"/><use href="#p" x="580.5" y="421.5"/><use href="#p" x="583.5" y="424.5"/><use href="#p" x="584.5" y="422.5"/><use href="#p" x="584.5" y="423.5"/><use href="#p" x="581.5" y="422.5"/><use href="#p" x="589.5" y="421.5"/><use href="#p" x="586.5" y="421.5"/><use href="#p" x="587.5" y="424.5"/><use href="#p" x="585.5" y="424.5"/><use href="#p" x="586.5" y="420.5"/><use href="#p" x="593.5" y="423.5"/><use href="#p" x="594.5" y="424.5"/><use href="#p" x="591.5" y="424.5"/><use href="#p" x="594.5" y="421.5"/><use href="#p" x="591.5" y="421.5"/><use href="#p" x="591.5" y="421.5"/><use href="#p" x="590.5" y="421.5"/><use href="#p" x="599.5" y="420.5"/><use href="#p" x="597.5" y="421.5"/><use href="#p" x="599.5" y="421.5"/><use href="#p" x="599.5" y="424.5"/><use href="#p" x="599.5" y="420.5"/><use href="#p" x="599.5" y="423.5"/><use href="#p" x="598.5" y="423.5"/><use href="#p" x="595.5" y="424.5"/><use href="#p" x="597.5" y="422.5"/><use href="#p" x="596.5" y="423.5"/><use href="#p" x="598.5" y="424.5"/><use href="#p" x="596.5" y="421.5"/><use href="#p" x="596.5" y="420.5"/><use href="#p" x="596.5" y="420.5"/><use href="#p" x="583.5" y="425.5"/><use href="#p" x="582.5" y="427.5"/><use href="#p" x="584.5" y="429.5"/><use href="#p" x="587.5" y="429.5"/><use href="#p" x="587.5" y="427.5"/><use href="#p" x="587.5" y="429.5"/><use href="#p" x="588.5" y="426.5"/><use href="#p" x="586.5" y="426.5"/><use href="#p" x="589.5" y="428.5"/><use href="#p" x="585.5" y="429.5"/><use href="#p" x="585.5" y="427.5"/><use href="#p" x="587.5" y="428.5"/><use href="#p" x="594.5" y="426.5"/><use href="#p" x="594.5" y="429.5"/><use href="#p" x="592.5" y="426.5"/><use href="#p" x="593.5" y="429.5"/><use href="#p" x="591.5" y="426.5"/><use href="#p" x="591.5" y="428.5"/><use href="#p" x="590.5" y="427.5"/><use href="#p" x="599.5" y="426.5"/><use href="#p" x="595.5" y="427.5"/><use href="#p" x="599.5" y="429.5"/><use href="#p" x="599.5" y="427.5"/><use href="#p" x="599.5" y="427.5"/><use href="#p" x="595.5" y="428.5"/><use href="#p" x="599.5" y="427.5"/><use href="#p" x="598.5" y="426.5"/><use href="#p" x="596.5" y="427.5"/><use href="#p" x="597.5" y="427.5"/><use href="#p" x="595.5" y="425.5"/><use href="#p" x="596.5" y="428.5"/><use href="#p" x="582.5" y="433.5"/><use href="#p" x="583.5" y="433.5"/><use href="#p" x="583.5" y="431.5"/><use href="#p" x="584.5" y="434.5"/><use href="#p" x="580.5" y="434.5"/><use href="#p" x="582.5" y="430.5"/><use href="#p" x="580.5" y="433.5"/><use href="#p" x="585.5" y="432.5"/><use href="#p" x="588.5" y="431.5"/><use href="#p" x="585.5" y="431.5"/><use href="#p" x="585.5" y="430.5"/><use href="#p" x="586.5" y="432.5"/><use href="#p" x="585.5" y="432.5"/><use href="#p" x="587.5" y="434.5"/><use href="#p" x="587.5" y="434.5"/><use href="#p" x="593.5" y="434.5"/><use href="#p" x="592.5" y="431.5"/><use href="#p" x="592.5" y="431.5"/><use href="#p" x="593.5" y="431.5"/><use href="#p" x="590.5" y="434.5"/><use href="#p" x="598.5" y="434.5"/><use href="#p" x="597.5" y="432.5"/><use href="#p" x="596.5" y="432.5"/><use href="#p" x="598.5" y="433.5"/><use href="#p" x="580.5" y="435.5"/><use href="#p" x="584.5" y="439.5"/><use href="#p" x="580.5" y="436.5"/><use href="#p" x="582.5" y="437.5"/><use href="#p" x="581.5" y="439.5"/><use href="#p" x="581.5" y="437.5"/><use href="#p" x="584.5" y="438.5"/><use href="#p" x="582.5" y="436.5"/><use href="#p" x="581.5" y="438.5"/><use href="#p" x="583.5" y="436.5"/><use href="#p" x="588.5" y="435.5"/><use href="#p" x="585.5" y="435.5"/><use href="#p" x="589.5" y="435.5"/><use href="#p" x="586.5" y="435.5"/><use href="#p" x="586.5" y="438.5"/><use href="#p" x="588.5" y="439.5"/><use href="#p" x="589.5" y="437.5"/><use href="#p" x="589.5" y="435.5"/><use href="#p" x="594.5" y="435.5"/><use href="#p" x="590.5" y="435.5"/><use href="#p" x="590.5" y="438.5"/><use href="#p" x="593.5" y="435.5"/><use href="#p" x="590.5" y="435.5"/><use href="#p" x="593.5" y="438.5"/><use href="#p" x="594.5" y="436.5"/><use href="#p" x="594.5" y="437.5"/><use href="#p" x="591.5" y="436.5"/><use href="#p" x="596.5" y="438.5"/><use href="#p" x="595.5" y="437.5"/><use href="#p" x="598.5" y="435.5"/><use href="#p" x="597.5" y="438.5"/><use href="#p" x="597.5" y="437.5"/><use href="#p" x="599.5" y="438.5"/><use href="#p" x="601.5" y="423.5"/><use href="#p" x="600.5" y="424.5"/><use href="#p" x="603.5" y="422.5"/><use href="#p" x="600.5" y="423.5"/><use href="#p" x="602.5" y="423.5"/><use href="#p" x="602.5" y="423.5"/><use href="#p" x="602.5" y="424.5"/><use href="#p" x="608.5" y="421.5"/><use href="#p" x="608.5" y="420.5"/><use href="#p" x="609.5" y="422.5"/><use href="#p" x="606.5" y="424.5"/><use href="#p" x="605.5" y="424.5"/><use href="#p" x="608.5" y="420.5"/><use href="#p" x="608.5" y="422.5"/><use href="#p" x="609.5" y="422.5"/><use href="#p" x="607.5" y="424.5"/><use href="#p" x="605.5" y="423.5"/><use href="#p" x="605.5" y="421.5"/><use href="#p" x="605.5" y="424.5"/><use href="#p" x="613.5" y="421.5"/><use href="#p" x="613.5" y="421.5"/><use href="#p" x="611.5" y="424.5"/><use href="#p" x="614.5" y="424.5"/><use href="#p" x="612.5" y="422.5"/><use href="#p" x="614.5" y="423.5"/><use href="#p" x="618.5" y="420.5"/><use href="#p" x="619.5" y="422.5"/><use href="#p" x="618.5" y="420.5"/><use href="#p" x="618.5" y="421.5"/><use href="#p" x="616.5" y="424.5"/><use href="#p" x="615.5" y="422.5"/><use href="#p" x="615.5" y="424.5"/><use href="#p" x="600.5" y="425.5"/><use href="#p" x="604.5" y="425.5"/><use href="#p" x="600.5" y="427.5"/><use href="#p" x="601.5" y="425.5"/><use href="#p" x="604.5" y="427.5"/><use href="#p" x="603.5" y="426.5"/><use href="#p" x="604.5" y="426.5"/><use href="#p" x="607.5" y="429.5"/><use href="#p" x="609.5" y="429.5"/><use href="#p" x="605.5" y="428.5"/><use href="#p" x="607.5" y="427.5"/><use href="#p" x="605.5" y="425.5"/><use href="#p" x="607.5" y="427.5"/><use href="#p" x="606.5" y="426.5"/><use href="#p" x="607.5" y="428.5"/><use href="#p" x="607.5" y="425.5"/><use href="#p" x="609.5" y="426.5"/><use href="#p" x="609.5" y="429.5"/><use href="#p" x="605.5" y="427.5"/><use href="#p" x="609.5" y="426.5"/><use href="#p" x="610.5" y="426.5"/><use href="#p" x="613.5" y="427.5"/><use href="#p" x="614.5" y="428.5"/><use href="#p" x="619.5" y="425.5"/><use href="#p" x="615.5" y="427.5"/><use href="#p" x="616.5" y="427.5"/><use href="#p" x="615.5" y="429.5"/><use href="#p" x="618.5" y="428.5"/><use href="#p" x="619.5" y="429.5"/><use href="#p" x="618.5" y="428.5"/><use href="#p" x="615.5" y="425.5"/><use href="#p" x="617.5" y="429.5"/><use href="#p" x="616.5" y="427.5"/><use href="#p" x="601.5" y="430.5"/><use href="#p" x="604.5" y="430.5"/><use href="#p" x="604.5" y="431.5"/><use href="#p" x="604.5" y="432.5"/><use href="#p" x="601.5" y="434.5"/><use href="#p" x="605.5" y="431.5"/><use href="#p" x="608.5" y="434.5"/><use href="#p" x="609.5" y="434.5"/><use href="#p" x="608.5" y="433.5"/><use href="#p" x="605.5" y="433.5"/><use href="#p" x="607.5" y="431.5"/><use href="#p" x="609.5" y="431.5"/><use href="#p" x="612.5" y="432.5"/><use href="#p" x="612.5" y="432.5"/><use href="#p" x="612.5" y="430.5"/><use href="#p" x="610.5" y="432.5"/><use href="#p" x="611.5" y="433.5"/><use href="#p" x="616.5" y="433.5"/><use href="#p" x="616.5" y="433.5"/><use href="#p" x="619.5" y="432.5"/><use href="#p" x="617.5" y="434.5"/><use href="#p" x="618.5" y="430.5"/><use href="#p" x="603.5" y="437.5"/><use href="#p" x="601.5" y="437.5"/><use href="#p" x="604.5" y="436.5"/><use href="#p" x="605.5" y="435.5"/><use href="#p" x="609.5" y="438.5"/><use href="#p" x="605.5" y="438.5"/><use href="#p" x="605.5" y="437.5"/><use href="#p" x="606.5" y="435.5"/><use href="#p" x="608.5" y="438.5"/><use href="#p" x="611.5" y="436.5"/><use href="#p" x="610.5" y="435.5"/><use href="#p" x="613.5" y="439.5"/><use href="#p" x="611.5" y="436.5"/><use href="#p" x="613.5" y="436.5"/><use href="#p" x="612.5" y="438.5"/><use href="#p" x="612.5" y="435.5"/><use href="#p" x="615.5" y="438.5"/><use href="#p" x="617.5" y="439.5"/><use href="#p" x="616.5" y="439.5"/><use href="#p" x="619.5" y="437.5"/><use href="#p" x="615.5" y="437.5"/><use href="#p" x="615.5" y="438.5"/><use href="#p" x="621.5" y="420.5"/><use href="#p" x="622.5" y="423.5"/><use href="#p" x="621.5" y="423.5"/><use href="#p" x="621.5" y="423.5"/><use href="#p" x="621.5" y="424.5"/><use href="#p" x="622.5" y="420.5"/><use href="#p" x="629.5" y="423.5"/><use href="#p" x="625.5" y="421.5"/><use href="#p" x="628.5" y="420.5"/><use href="#p" x="625.5" y="421.5"/><use href="#p" x="632.5" y="422.5"/><use href="#p" x="631.5" y="421.5"/><use href="#p" x="632.5" y="422.5"/><use href="#p" x="631.5" y="421.5"/><use href="#p" x="632.5" y="422.5"/><use href="#p" x="632.5" y="423.5"/><use href="#p" x="630.5" y="422.5"/><use href="#p" x="631.5" y="423.5"/><use href="#p" x="633.5" y="423.5"/><use href="#p" x="632.5" y="421.5"/><use href="#p" x="634.5" y="422.5"/><use href="#p" x="638.5" y="424.5"/><use href="#p" x="638.5" y="421.5"/><use href="#p" x="623.5" y="428.5"/><use href="#p" x="623.5" y="428.5"/><use href="#p" x="623.5" y="426.5"/><use href="#p" x="620.5" y="426.5"/><use href="#p" x="620.5" y="429.5"/><use href="#p" x="622.5" y="428.5"/><use href="#p" x="628.5" y="428.5"/><use href="#p" x="627.5" y="426.5"/><use href="#p" x="626.5" y="427.5"/><use href="#p" x="628.5" y="429.5"/><use href="#p" x="630.5" y="426.5"/><use href="#p" x="634.5" y="429.5"/><use href="#p" x="631.5" y="429.5"/><use href="#p" x="634.5" y="427.5"/><use href="#p" x="630.5" y="428.5"/><use href="#p" x="631.5" y="425.5"/><use href="#p" x="635.5" y="426.5"/><use href="#p" x="638.5" y="426.5"/><use href="#p" x="622.5" y="431.5"/><use href="#p" x="620.5" y="431.5"/><use href="#p" x="623.5" y="433.5"/><use href="#p" x="622.5" y="430.5"/><use href="#p" x="621.5" y="431.5"/><use href="#p" x="622.5" y="431.5"/><use href="#p" x="624.5" y="430.5"/><use href="#p" x="628.5" y="434.5"/><use href="#p" x="626.5" y="433.5"/><use href="#p" x="627.5" y="434.5"/><use href="#p" x="625.5" y="431.5"/><use href="#p" x="626.5" y="433.5"/><use href="#p" x="628.5" y="434.5"/><use href="#p" x="633.5" y="432.5"/><use href="#p" x="634.5" y="430.5"/><use href="#p" x="632.5" y="431.5"/><use href="#p" x="630.5" y="430.5"/><use href="#p" x="637.5" y="431.5"/><use href="#p" x="638.5" y="432.5"/><use href="#p" x="621.5" y="436.5"/><use href="#p" x="623.5" y="437.5"/><use href="#p" x="621.5" y="435.5"/><use href="#p" x="624.5" y="436.5"/><use href="#p" x="620.5" y="438.5"/><use href="#p" x="622.5" y="436.5"/><use href="#p" x="621.5" y="439.5"/><use href="#p" x="628.5" y="438.5"/><use href="#p" x="627.5" y="437.5"/><use href="#p" x="626.5" y="438.5"/><use href="#p" x="627.5" y="439.5"/><use href="#p" x="626.5" y="438.5"/><use href="#p" x="634.5" y="438.5"/><use href="#p" x="638.5" y="438.5"/><use href="#p" x="636.5" y="438.5"/><use href="#p" x="635.5" y="438.5"/><use href="#p" x="635.5" y="437.5"/><use href="#p" x="641.5" y="423.5"/><use href="#p" x="647.5" y="424.5"/><use href="#p" x="649.5" y="424.5"/><use href="#p" x="659.5" y="424.5"/><use href="#p" x="644.5" y="427.5"/><use href="#p" x="654.5" y="429.5"/><use href="#p" x="659.5" y="429.5"/><use href="#p" x="656.5" y="425.5"/><use href="#p" x="657.5" y="428.5"/><use href="#p" x="642.5" y="430.5"/><use href="#p" x="641.5" y="433.5"/><use href="#p" x="649.5" y="431.5"/><use href="#p" x="653.5" y="433.5"/><use href="#p" x="656.5" y="433.5"/><use href="#p" x="644.5" y="437.5"/><use href="#p" x="643.5" y="435.5"/><use href="#p" x="646.5" y="438.5"/><use href="#p" x="653.5" y="436.5"/><use href="#p" x="658.5" y="436.5"/><use href="#p" x="658.5" y="438.5"/><use href="#p" x="657.5" y="438.5"/><use href="#p" x="670.5" y="425.5"/><use href="#p" x="667.5" y="432.5"/><use href="#p" x="675.5" y="433.5"/><use href="#p" x="663.5" y="436.5"/><use href="#p" x="661.5" y="437.5"/><use href="#p" x="665.5" y="438.5"/><use href="#p" x="675.5" y="439.5"/><use href="#p" x="690.5" y="431.5"/><use href="#p" x="694.5" y="436.5"/><use href="#p" x="711.5" y="420.5"/><use href="#p" x="717.5" y="422.5"/><use href="#p" x="705.5" y="427.5"/><use href="#p" x="713.5" y="427.5"/><use href="#p" x="716.5" y="434.5"/><use href="#p" x="703.5" y="438.5"/><use href="#p" x="705.5" y="436.5"/><use href="#p" x="711.5" y="438.5"/><use href="#p" x="503.5" y="441.5"/><use href="#p" x="515.5" y="442.5"/><use href="#p" x="507.5" y="446.5"/><use href="#p" x="513.5" y="449.5"/><use href="#p" x="500.5" y="450.5"/><use href="#p" x="512.5" y="453.5"/><use href="#p" x="523.5" y="440.5"/><use href="#p" x="524.5" y="440.5"/><use href="#p" x="525.5" y="441.5"/><use href="#p" x="535.5" y="441.5"/><use href="#p" x="539.5" y="447.5"/><use href="#p" x="533.5" y="450.5"/><use href="#p" x="539.5" y="450.5"/><use href="#p" x="535.5" y="453.5"/><use href="#p" x="544.5" y="444.5"/><use href="#p" x="544.5" y="444.5"/><use href="#p" x="541.5" y="444.5"/><use href="#p" x="545.5" y="444.5"/><use href="#p" x="545.5" y="441.5"/><use href="#p" x="548.5" y="440.5"/><use href="#p" x="547.5" y="443.5"/><use href="#p" x="545.5" y="443.5"/><use href="#p" x="553.5" y="443.5"/><use href="#p" x="559.5" y="441.5"/><use href="#p" x="542.5" y="447.5"/><use href="#p" x="542.5" y="445.5"/><use href="#p" x="544.5" y="449.5"/><use href="#p" x="543.5" y="449.5"/><use href="#p" x="549.5" y="449.5"/><use href="#p" x="549.5" y="446.5"/><use href="#p" x="548.5" y="447.5"/><use href="#p" x="546.5" y="446.5"/><use href="#p" x="552.5" y="446.5"/><use href="#p" x="551.5" y="445.5"/><use href="#p" x="550.5" y="448.5"/><use href="#p" x="551.5" y="449.5"/><use href="#p" x="551.5" y="449.5"/><use href="#p" x="557.5" y="446.5"/><use href="#p" x="555.5" y="449.5"/><use href="#p" x="556.5" y="445.5"/><use href="#p" x="540.5" y="450.5"/><use href="#p" x="543.5" y="452.5"/><use href="#p" x="549.5" y="451.5"/><use href="#p" x="549.5" y="454.5"/><use href="#p" x="553.5" y="454.5"/><use href="#p" x="553.5" y="452.5"/><use href="#p" x="556.5" y="450.5"/><use href="#p" x="558.5" y="452.5"/><use href="#p" x="558.5" y="453.5"/><use href="#p" x="561.5" y="443.5"/><use href="#p" x="562.5" y="441.5"/><use href="#p" x="563.5" y="444.5"/><use href="#p" x="561.5" y="441.5"/><use href="#p" x="560.5" y="440.5"/><use href="#p" x="560.5" y="442.5"/><use href="#p" x="566.5" y="441.5"/><use href="#p" x="568.5" y="440.5"/><use href="#p" x="567.5" y="441.5"/><use href="#p" x="567.5" y="442.5"/><use href="#p" x="565.5" y="443.5"/><use href="#p" x="569.5" y="442.5"/><use href="#p" x="574.5" y="443.5"/><use href="#p" x="571.5" y="444.5"/><use href="#p" x="574.5" y="444.5"/><use href="#p" x="571.5" y="442.5"/><use href="#p" x="571.5" y="441.5"/><use href="#p" x="577.5" y="442.5"/><use href="#p" x="578.5" y="444.5"/><use href="#p" x="578.5" y="442.5"/><use href="#p" x="578.5" y="442.5"/><use href="#p" x="578.5" y="444.5"/><use href="#p" x="575.5" y="441.5"/><use href="#p" x="579.5" y="440.5"/><use href="#p" x="578.5" y="440.5"/><use href="#p" x="578.5" y="444.5"/><use href="#p" x="563.5" y="446.5"/><use href="#p" x="562.5" y="449.5"/><use href="#p" x="563.5" y="449.5"/><use href="#p" x="561.5" y="447.5"/><use href="#p" x="566.5" y="447.5"/><use href="#p" x="569.5" y="445.5"/><use href="#p" x="569.5" y="446.5"/><use href="#p" x="567.5" y="449.5"/><use href="#p" x="565.5" y="446.5"/><use href="#p" x="565.5" y="445.5"/><use href="#p" x="566.5" y="448.5"/><use href="#p" x="571.5" y="449.5"/><use href="#p" x="574.5" y="446.5"/><use href="#p" x="570.5" y="449.5"/><use href="#p" x="574.5" y="445.5"/><use href="#p" x="573.5" y="448.5"/><use href="#p" x="573.5" y="449.5"/><use href="#p" x="577.5" y="445.5"/><use href="#p" x="579.5" y="449.5"/><use href="#p" x="576.5" y="448.5"/><use href="#p" x="578.5" y="445.5"/><use href="#p" x="578.5" y="448.5"/><use href="#p" x="576.5" y="445.5"/><use href="#p" x="576.5" y="448.5"/><use href="#p" x="577.5" y="449.5"/><use href="#p" x="575.5" y="445.5"/><use href="#p" x="576.5" y="449.5"/><use href="#p" x="560.5" y="453.5"/><use href="#p" x="560.5" y="451.5"/><use href="#p" x="566.5" y="451.5"/><use href="#p" x="568.5" y="453.5"/><use href="#p" x="568.5" y="452.5"/><use href="#p" x="568.5" y="450.5"/><use href="#p" x="571.5" y="454.5"/><use href="#p" x="573.5" y="452.5"/><use href="#p" x="571.5" y="454.5"/><use href="#p" x="574.5" y="452.5"/><use href="#p" x="572.5" y="454.5"/><use href="#p" x="577.5" y="454.5"/><use href="#p" x="577.5" y="451.5"/><use href="#p" x="579.5" y="454.5"/><use href="#p" x="576.5" y="450.5"/><use href="#p" x="578.5" y="453.5"/><use href="#p" x="564.5" y="455.5"/><use href="#p" x="565.5" y="455.5"/><use href="#p" x="571.5" y="455.5"/><use href="#p" x="576.5" y="455.5"/><use href="#p" x="583.5" y="443.5"/><use href="#p" x="581.5" y="442.5"/><use href="#p" x="581.5" y="440.5"/><use href="#p" x="589.5" y="443.5"/><use href="#p" x="587.5" y="443.5"/><use href="#p" x="585.5" y="441.5"/><use href="#p" x="586.5" y="444.5"/><use href="#p" x="585.5" y="442.5"/><use href="#p" x="589.5" y="443.5"/><use href="#p" x="588.5" y="441.5"/><use href="#p" x="586.5" y="443.5"/><use href="#p" x="586.5" y="443.5"/><use href="#p" x="586.5" y="443.5"/><use href="#p" x="592.5" y="441.5"/><use href="#p" x="593.5" y="441.5"/><use href="#p" x="591.5" y="443.5"/><use href="#p" x="592.5" y="443.5"/><use href="#p" x="592.5" y="440.5"/><use href="#p" x="593.5" y="441.5"/><use href="#p" x="592.5" y="440.5"/><use href="#p" x="596.5" y="441.5"/><use href="#p" x="595.5" y="441.5"/><use href="#p" x="598.5" y="442.5"/><use href="#p" x="595.5" y="443.5"/><use href="#p" x="595.5" y="443.5"/><use href="#p" x="595.5" y="440.5"/><use href="#p" x="596.5" y="442.5"/><use href="#p" x="596.5" y="444.5"/><use href="#p" x="599.5" y="441.5"/><use href="#p" x="598.5" y="443.5"/><use href="#p" x="597.5" y="441.5"/><use href="#p" x="580.5" y="447.5"/><use href="#p" x="584.5" y="445.5"/><use href="#p" x="584.5" y="446.5"/><use href="#p" x="580.5" y="449.5"/><use href="#p" x="585.5" y="446.5"/><use href="#p" x="587.5" y="447.5"/><use href="#p" x="586.5" y="447.5"/><use href="#p" x="588.5" y="448.5"/><use href="#p" x="594.5" y="449.5"/><use href="#p" x="590.5" y="448.5"/><use href="#p" x="591.5" y="447.5"/><use href="#p" x="594.5" y="446.5"/><use href="#p" x="592.5" y="448.5"/><use href="#p" x="590.5" y="448.5"/><use href="#p" x="592.5" y="449.5"/><use href="#p" x="590.5" y="448.5"/><use href="#p" x="590.5" y="446.5"/><use href="#p" x="598.5" y="449.5"/><use href="#p" x="595.5" y="446.5"/><use href="#p" x="598.5" y="447.5"/><use href="#p" x="599.5" y="446.5"/><use href="#p" x="596.5" y="449.5"/><use href="#p" x="580.5" y="454.5"/><use href="#p" x="580.5" y="453.5"/><use href="#p" x="583.5" y="451.5"/><use href="#p" x="583.5" y="452.5"/><use href="#p" x="583.5" y="450.5"/><use href="#p" x="584.5" y="451.5"/><use href="#p" x="584.5" y="452.5"/><use href="#p" x="584.5" y="451.5"/><use href="#p" x="582.5" y="450.5"/><use href="#p" x="582.5" y="450.5"/><use href="#p" x="589.5" y="452.5"/><use href="#p" x="587.5" y="454.5"/><use href="#p" x="586.5" y="450.5"/><use href="#p" x="589.5" y="451.5"/><use href="#p" x="585.5" y="450.5"/><use href="#p" x="589.5" y="453.5"/><use href="#p" x="586.5" y="450.5"/><use href="#p" x="589.5" y="453.5"/><use href="#p" x="587.5" y="450.5"/><use href="#p" x="587.5" y="454.5"/><use href="#p" x="594.5" y="450.5"/><use href="#p" x="594.5" y="454.5"/><use href="#p" x="599.5" y="450.5"/><use href="#p" x="599.5" y="452.5"/><use href="#p" x="596.5" y="451.5"/><use href="#p" x="597.5" y="453.5"/><use href="#p" x="597.5" y="454.5"/><use href="#p" x="597.5" y="452.5"/><use href="#p" x="582.5" y="455.5"/><use href="#p" x="590.5" y="455.5"/><use href="#p" x="604.5" y="443.5"/><use href="#p" x="602.5" y="444.5"/><use href="#p" x="604.5" y="443.5"/><use href="#p" x="600.5" y="442.5"/><use href="#p" x="607.5" y="441.5"/><use href="#p" x="607.5" y="444.5"/><use href="#p" x="605.5" y="443.5"/><use href="#p" x="606.5" y="444.5"/><use href="#p" x="609.5" y="441.5"/><use href="#p" x="608.5" y="440.5"/><use href="#p" x="612.5" y="440.5"/><use href="#p" x="611.5" y="443.5"/><use href="#p" x="614.5" y="442.5"/><use href="#p" x="611.5" y="442.5"/><use href="#p" x="611.5" y="443.5"/><use href="#p" x="615.5" y="441.5"/><use href="#p" x="616.5" y="441.5"/><use href="#p" x="618.5" y="442.5"/><use href="#p" x="617.5" y="441.5"/><use href="#p" x="618.5" y="444.5"/><use href="#p" x="604.5" y="446.5"/><use href="#p" x="603.5" y="447.5"/><use href="#p" x="602.5" y="446.5"/><use href="#p" x="600.5" y="446.5"/><use href="#p" x="603.5" y="447.5"/><use href="#p" x="600.5" y="448.5"/><use href="#p" x="602.5" y="445.5"/><use href="#p" x="601.5" y="446.5"/><use href="#p" x="608.5" y="449.5"/><use href="#p" x="608.5" y="445.5"/><use href="#p" x="605.5" y="445.5"/><use href="#p" x="606.5" y="447.5"/><use href="#p" x="609.5" y="447.5"/><use href="#p" x="607.5" y="446.5"/><use href="#p" x="609.5" y="448.5"/><use href="#p" x="606.5" y="445.5"/><use href="#p" x="610.5" y="449.5"/><use href="#p" x="614.5" y="448.5"/><use href="#p" x="613.5" y="446.5"/><use href="#p" x="611.5" y="445.5"/><use href="#p" x="614.5" y="445.5"/><use href="#p" x="613.5" y="446.5"/><use href="#p" x="610.5" y="447.5"/><use href="#p" x="614.5" y="446.5"/><use href="#p" x="615.5" y="446.5"/><use href="#p" x="617.5" y="447.5"/><use href="#p" x="617.5" y="448.5"/><use href="#p" x="619.5" y="447.5"/><use href="#p" x="615.5" y="449.5"/><use href="#p" x="615.5" y="446.5"/><use href="#p" x="603.5" y="453.5"/><use href="#p" x="602.5" y="450.5"/><use href="#p" x="603.5" y="451.5"/><use href="#p" x="600.5" y="450.5"/><use href="#p" x="602.5" y="450.5"/><use href="#p" x="601.5" y="452.5"/><use href="#p" x="602.5" y="452.5"/><use href="#p" x="606.5" y="450.5"/><use href="#p" x="609.5" y="451.5"/><use href="#p" x="607.5" y="452.5"/><use href="#p" x="605.5" y="453.5"/><use href="#p" x="608.5" y="453.5"/><use href="#p" x="609.5" y="451.5"/><use href="#p" x="605.5" y="453.5"/><use href="#p" x="608.5" y="451.5"/><use href="#p" x="606.5" y="450.5"/><use href="#p" x="609.5" y="452.5"/><use href="#p" x="611.5" y="454.5"/><use href="#p" x="614.5" y="451.5"/><use href="#p" x="610.5" y="450.5"/><use href="#p" x="614.5" y="450.5"/><use href="#p" x="614.5" y="452.5"/><use href="#p" x="612.5" y="452.5"/><use href="#p" x="612.5" y="452.5"/><use href="#p" x="610.5" y="454.5"/><use href="#p" x="610.5" y="450.5"/><use href="#p" x="613.5" y="453.5"/><use href="#p" x="614.5" y="453.5"/><use href="#p" x="614.5" y="450.5"/><use href="#p" x="617.5" y="453.5"/><use href="#p" x="615.5" y="452.5"/><use href="#p" x="619.5" y="453.5"/><use href="#p" x="609.5" y="455.5"/><use href="#p" x="622.5" y="440.5"/><use href="#p" x="624.5" y="441.5"/><use href="#p" x="627.5" y="443.5"/><use href="#p" x="629.5" y="444.5"/><use href="#p" x="625.5" y="441.5"/><use href="#p" x="629.5" y="442.5"/><use href="#p" x="629.5" y="441.5"/><use href="#p" x="625.5" y="444.5"/><use href="#p" x="626.5" y="442.5"/><use href="#p" x="632.5" y="444.5"/><use href="#p" x="631.5" y="441.5"/><use href="#p" x="632.5" y="441.5"/><use href="#p" x="633.5" y="443.5"/><use href="#p" x="630.5" y="444.5"/><use href="#p" x="630.5" y="443.5"/><use href="#p" x="631.5" y="440.5"/><use href="#p" x="636.5" y="442.5"/><use href="#p" x="639.5" y="443.5"/><use href="#p" x="638.5" y="444.5"/><use href="#p" x="637.5" y="442.5"/><use href="#p" x="639.5" y="440.5"/><use href="#p" x="639.5" y="440.5"/><use href="#p" x="637.5" y="442.5"/><use href="#p" x="620.5" y="445.5"/><use href="#p" x="623.5" y="445.5"/><use href="#p" x="621.5" y="449.5"/><use href="#p" x="624.5" y="449.5"/><use href="#p" x="620.5" y="445.5"/><use href="#p" x="623.5" y="447.5"/><use href="#p" x="627.5" y="449.5"/><use href="#p" x="626.5" y="445.5"/><use href="#p" x="628.5" y="445.5"/><use href="#p" x="632.5" y="448.5"/><use href="#p" x="631.5" y="448.5"/><use href="#p" x="630.5" y="445.5"/><use href="#p" x="633.5" y="447.5"/><use href="#p" x="634.5" y="445.5"/><use href="#p" x="633.5" y="448.5"/><use href="#p" x="637.5" y="448.5"/><use href="#p" x="638.5" y="447.5"/><use href="#p" x="635.5" y="447.5"/><use href="#p" x="637.5" y="449.5"/><use href="#p" x="624.5" y="452.5"/><use href="#p" x="623.5" y="454.5"/><use href="#p" x="621.5" y="451.5"/><use href="#p" x="624.5" y="450.5"/><use href="#p" x="621.5" y="452.5"/><use href="#p" x="623.5" y="453.5"/><use href="#p" x="624.5" y="453.5"/><use href="#p" x="620.5" y="450.5"/><use href="#p" x="620.5" y="452.5"/><use href="#p" x="629.5" y="452.5"/><use href="#p" x="629.5" y="451.5"/><use href="#p" x="628.5" y="452.5"/><use href="#p" x="631.5" y="451.5"/><use href="#p" x="634.5" y="452.5"/><use href="#p" x="639.5" y="450.5"/><use href="#p" x="638.5" y="451.5"/><use href="#p" x="622.5" y="455.5"/><use href="#p" x="639.5" y="455.5"/><use href="#p" x="640.5" y="440.5"/><use href="#p" x="641.5" y="440.5"/><use href="#p" x="640.5" y="443.5"/><use href="#p" x="643.5" y="444.5"/><use href="#p" x="646.5" y="440.5"/><use href="#p" x="654.5" y="442.5"/><use href="#p" x="641.5" y="448.5"/><use href="#p" x="640.5" y="445.5"/><use href="#p" x="642.5" y="445.5"/><use href="#p" x="645.5" y="446.5"/><use href="#p" x="654.5" y="448.5"/><use href="#p" x="650.5" y="446.5"/><use href="#p" x="643.5" y="453.5"/><use href="#p" x="643.5" y="453.5"/><use href="#p" x="641.5" y="450.5"/><use href="#p" x="651.5" y="454.5"/><use href="#p" x="654.5" y="451.5"/><use href="#p" x="662.5" y="442.5"/><use href="#p" x="664.5" y="443.5"/><use href="#p" x="668.5" y="441.5"/><use href="#p" x="667.5" y="442.5"/><use href="#p" x="668.5" y="444.5"/><use href="#p" x="668.5" y="441.5"/><use href="#p" x="671.5" y="440.5"/><use href="#p" x="660.5" y="445.5"/><use href="#p" x="669.5" y="452.5"/><use href="#p" x="676.5" y="452.5"/><use href="#p" x="681.5" y="440.5"/><use href="#p" x="699.5" y="440.5"/><use href="#p" x="680.5" y="446.5"/><use href="#p" x="688.5" y="449.5"/><use href="#p" x="694.5" y="445.5"/><use href="#p" x="691.5" y="454.5"/><use href="#p" x="688.5" y="455.5"/><use href="#p" x="703.5" y="445.5"/><use href="#p" x="701.5" y="454.5"/><use href="#p" x="705.5" y="450.5"/><use href="#p" x="715.5" y="453.5"/><use href="#p" x="718.5" y="452.5"/><use href="#p" x="540.5" y="467.5"/><use href="#p" x="545.5" y="463.5"/><use href="#p" x="557.5" y="462.5"/><use href="#p" x="555.5" y="467.5"/><use href="#p" x="551.5" y="465.5"/><use href="#p" x="560.5" y="465.5"/><use href="#p" x="572.5" y="466.5"/><use href="#p" x="570.5" y="462.5"/><use href="#p" x="564.5" y="465.5"/><use href="#p" x="561.5" y="462.5"/><use href="#p" x="565.5" y="466.5"/><use href="#p" x="570.5" y="464.5"/><use href="#p" x="579.5" y="465.5"/><use href="#p" x="564.5" y="465.5"/><use href="#p" x="577.5" y="464.5"/><use href="#p" x="568.5" y="465.5"/><use href="#p" x="579.5" y="465.5"/><use href="#p" x="563.5" y="465.5"/><use href="#p" x="566.5" y="464.5"/><use href="#p" x="574.5" y="462.5"/><use href="#p" x="570.5" y="463.5"/><use href="#p" x="571.5" y="466.5"/><use href="#p" x="569.5" y="465.5"/><use href="#p" x="565.5" y="463.5"/><use href="#p" x="570.5" y="465.5"/><use href="#p" x="584.5" y="466.5"/><use href="#p" x="589.5" y="464.5"/><use href="#p" x="585.5" y="467.5"/><use href="#p" x="598.5" y="467.5"/><use href="#p" x="584.5" y="462.5"/><use href="#p" x="592.5" y="462.5"/><use href="#p" x="597.5" y="466.5"/><use href="#p" x="586.5" y="464.5"/><use href="#p" x="593.5" y="462.5"/><use href="#p" x="587.5" y="466.5"/><use href="#p" x="593.5" y="465.5"/><use href="#p" x="582.5" y="463.5"/><use href="#p" x="585.5" y="462.5"/><use href="#p" x="592.5" y="465.5"/><use href="#p" x="598.5" y="465.5"/><use href="#p" x="598.5" y="464.5"/><use href="#p" x="590.5" y="463.5"/><use href="#p" x="589.5" y="467.5"/><use href="#p" x="589.5" y="462.5"/><use href="#p" x="587.5" y="463.5"/><use href="#p" x="592.5" y="465.5"/><use href="#p" x="589.5" y="467.5"/><use href="#p" x="595.5" y="462.5"/><use href="#p" x="580.5" y="466.5"/><use href="#p" x="591.5" y="465.5"/><use href="#p" x="590.5" y="462.5"/><use href="#p" x="589.5" y="467.5"/><use href="#p" x="592.5" y="462.5"/><use href="#p" x="582.5" y="467.5"/><use href="#p" x="590.5" y="462.5"/><use href="#p" x="594.5" y="467.5"/><use href="#p" x="597.5" y="465.5"/><use href="#p" x="616.5" y="462.5"/><use href="#p" x="609.5" y="466.5"/><use href="#p" x="606.5" y="462.5"/><use href="#p" x="617.5" y="466.5"/><use href="#p" x="600.5" y="462.5"/><use href="#p" x="611.5" y="467.5"/><use href="#p" x="612.5" y="467.5"/><use href="#p" x="602.5" y="465.5"/><use href="#p" x="603.5" y="463.5"/><use href="#p" x="602.5" y="464.5"/><use href="#p" x="600.5" y="465.5"/><use href="#p" x="612.5" y="467.5"/><use href="#p" x="615.5" y="462.5"/><use href="#p" x="617.5" y="465.5"/><use href="#p" x="618.5" y="464.5"/><use href="#p" x="601.5" y="466.5"/><use href="#p" x="603.5" y="467.5"/><use href="#p" x="610.5" y="467.5"/><use href="#p" x="609.5" y="463.5"/><use href="#p" x="613.5" y="466.5"/><use href="#p" x="609.5" y="463.5"/><use href="#p" x="608.5" y="466.5"/><use href="#p" x="604.5" y="462.5"/><use href="#p" x="609.5" y="465.5"/><use href="#p" x="601.5" y="463.5"/><use href="#p" x="619.5" y="463.5"/><use href="#p" x="615.5" y="463.5"/><use href="#p" x="601.5" y="464.5"/><use href="#p" x="617.5" y="466.5"/><use href="#p" x="600.5" y="466.5"/><use href="#p" x="612.5" y="464.5"/><use href="#p" x="613.5" y="465.5"/><use href="#p" x="603.5" y="466.5"/><use href="#p" x="602.5" y="463.5"/><use href="#p" x="637.5" y="465.5"/><use href="#p" x="630.5" y="466.5"/><use href="#p" x="629.5" y="464.5"/><use href="#p" x="631.5" y="462.5"/><use href="#p" x="627.5" y="462.5"/><use href="#p" x="639.5" y="467.5"/><use href="#p" x="633.5" y="462.5"/><use href="#p" x="637.5" y="463.5"/><use href="#p" x="636.5" y="465.5"/><use href="#p" x="632.5" y="466.5"/><use href="#p" x="625.5" y="467.5"/><use href="#p" x="630.5" y="466.5"/><use href="#p" x="636.5" y="463.5"/><use href="#p" x="628.5" y="464.5"/><use href="#p" x="621.5" y="467.5"/><use href="#p" x="633.5" y="464.5"/><use href="#p" x="630.5" y="467.5"/><use href="#p" x="621.5" y="464.5"/><use href="#p" x="633.5" y="465.5"/><use href="#p" x="629.5" y="463.5"/><use href="#p" x="624.5" y="466.5"/><use href="#p" x="626.5" y="467.5"/><use href="#p" x="638.5" y="467.5"/><use href="#p" x="625.5" y="465.5"/><use href="#p" x="622.5" y="464.5"/><use href="#p" x="621.5" y="465.5"/><use href="#p" x="639.5" y="466.5"/><use href="#p" x="627.5" y="463.5"/><use href="#p" x="638.5" y="462.5"/><use href="#p" x="636.5" y="467.5"/><use href="#p" x="621.5" y="467.5"/><use href="#p" x="632.5" y="464.5"/><use href="#p" x="648.5" y="465.5"/><use href="#p" x="650.5" y="467.5"/><use href="#p" x="657.5" y="463.5"/><use href="#p" x="640.5" y="466.5"/><use href="#p" x="652.5" y="465.5"/><use href="#p" x="641.5" y="462.5"/><use href="#p" x="657.5" y="464.5"/><use href="#p" x="649.5" y="467.5"/><use href="#p" x="643.5" y="465.5"/><use href="#p" x="641.5" y="465.5"/><use href="#p" x="654.5" y="462.5"/><use href="#p" x="655.5" y="467.5"/><use href="#p" x="656.5" y="466.5"/><use href="#p" x="658.5" y="466.5"/><use href="#p" x="670.5" y="466.5"/><use href="#p" x="676.5" y="465.5"/><use href="#p" x="673.5" y="463.5"/><use href="#p" x="666.5" y="463.5"/><use href="#p" x="677.5" y="466.5"/><use href="#p" x="665.5" y="467.5"/><use href="#p" x="661.5" y="462.5"/><use href="#p" x="666.5" y="462.5"/><use href="#p" x="678.5" y="464.5"/><use href="#p" x="687.5" y="467.5"/><use href="#p" x="690.5" y="465.5"/><use href="#p" x="688.5" y="464.5"/><use href="#p" x="699.5" y="463.5"/><use href="#p" x="690.5" y="464.5"/><use href="#p" x="682.5" y="462.5"/><use href="#p" x="690.5" y="466.5"/><use href="#p" x="688.5" y="462.5"/><use href="#p" x="698.5" y="462.5"/><use href="#p" x="697.5" y="462.5"/><use href="#p" x="712.5" y="462.5"/><use href="#p" x="705.5" y="464.5"/><use href="#p" x="715.5" y="464.5"/><use href="#p" x="708.5" y="464.5"/><use href="#p" x="710.5" y="463.5"/><use href="#p" x="562.5" y="475.5"/><use href="#p" x="567.5" y="477.5"/><use href="#p" x="560.5" y="476.5"/><use href="#p" x="587.5" y="480.5"/><use href="#p" x="586.5" y="473.5"/><use href="#p" x="586.5" y="474.5"/><use href="#p" x="585.5" y="476.5"/><use href="#p" x="588.5" y="477.5"/><use href="#p" x="585.5" y="473.5"/><use href="#p" x="611.5" y="477.5"/><use href="#p" x="613.5" y="473.5"/><use href="#p" x="601.5" y="469.5"/><use href="#p" x="602.5" y="470.5"/><use href="#p" x="603.5" y="476.5"/><use href="#p" x="606.5" y="479.5"/><use href="#p" x="604.5" y="471.5"/><use href="#p" x="603.5" y="469.5"/><use href="#p" x="613.5" y="475.5"/><use href="#p" x="605.5" y="478.5"/><use href="#p" x="633.5" y="473.5"/><use href="#p" x="632.5" y="476.5"/><use href="#p" x="628.5" y="469.5"/><use href="#p" x="627.5" y="480.5"/><use href="#p" x="627.5" y="476.5"/><use href="#p" x="621.5" y="478.5"/><use href="#p" x="637.5" y="472.5"/><use href="#p" x="627.5" y="474.5"/><use href="#p" x="625.5" y="470.5"/><use href="#p" x="622.5" y="476.5"/><use href="#p" x="650.5" y="480.5"/><use href="#p" x="659.5" y="479.5"/><use href="#p" x="658.5" y="478.5"/><use href="#p" x="640.5" y="469.5"/><use href="#p" x="659.5" y="479.5"/><use href="#p" x="652.5" y="476.5"/><use href="#p" x="648.5" y="473.5"/><use href="#p" x="642.5" y="475.5"/><use href="#p" x="645.5" y="469.5"/><use href="#p" x="677.5" y="475.5"/><use href="#p" x="677.5" y="471.5"/><use href="#p" x="671.5" y="471.5"/><use href="#p" x="676.5" y="470.5"/><use href="#p" x="672.5" y="475.5"/><use href="#p" x="666.5" y="469.5"/><use href="#p" x="669.5" y="474.5"/><use href="#p" x="676.5" y="470.5"/><use href="#p" x="663.5" y="471.5"/><use href="#p" x="676.5" y="471.5"/><use href="#p" x="692.5" y="468.5"/><use href="#p" x="681.5" y="477.5"/><use href="#p" x="689.5" y="469.5"/><use href="#p" x="689.5" y="480.5"/><use href="#p" x="687.5" y="475.5"/><use href="#p" x="688.5" y="474.5"/><use href="#p" x="680.5" y="479.5"/><use href="#p" x="691.5" y="472.5"/><use href="#p" x="685.5" y="470.5"/><use href="#p" x="698.5" y="478.5"/><use href="#p" x="687.5" y="475.5"/><use href="#p" x="691.5" y="470.5"/><use href="#p" x="680.5" y="477.5"/><use href="#p" x="703.5" y="475.5"/><use href="#p" x="700.5" y="468.5"/><use href="#p" x="703.5" y="476.5"/><use href="#p" x="712.5" y="480.5"/><use href="#p" x="713.5" y="474.5"/><use href="#p" x="700.5" y="480.5"/><use href="#p" x="709.5" y="479.5"/><use href="#p" x="580.5" y="484.5"/><use href="#p" x="609.5" y="480.5"/><use href="#p" x="628.5" y="479.5"/><use href="#p" x="631.5" y="480.5"/><use href="#p" x="654.5" y="480.5"/><use href="#p" x="673.5" y="482.5"/><use href="#p" x="674.5" y="484.5"/><use href="#p" x="665.5" y="483.5"/><use href="#p" x="687.5" y="484.5"/><use href="#p" x="696.5" y="483.5"/><use href="#p" x="465.5" y="457.5"/><use href="#p" x="465.5" y="458.5"/><use href="#p" x="466.5" y="458.5"/><use href="#p" x="467.5" y="458.5"/><use href="#p" x="467.5" y="458.5"/><use href="#p" x="468.5" y="456.5"/><use href="#p" x="469.5" y="457.5"/><use href="#p" x="469.5" y="458.5"/><use href="#p" x="470.5" y="458.5"/><use href="#p" x="471.5" y="459.5"/><use href="#p" x="471.5" y="458.5"/><use href="#p" x="471.5" y="458.5"/><use href="#p" x="472.5" y="457.5"/><use href="#p" x="472.5" y="456.5"/><use href="#p" x="472.5" y="458.5"/><use href="#p" x="473.5" y="458.5"/><use href="#p" x="474.5" y="458.5"/><use href="#p" x="474.5" y="458.5"/><use href="#p" x="475.5" y="459.5"/><use href="#p" x="476.5" y="459.5"/><use href="#p" x="477.5" y="458.5"/><use href="#p" x="477.5" y="459.5"/><use href="#p" x="478.5" y="458.5"/><use href="#p" x="478.5" y="458.5"/><use href="#p" x="479.5" y="459.5"/><use href="#p" x="480.5" y="458.5"/><use href="#p" x="481.5" y="459.5"/><use href="#p" x="481.5" y="458.5"/><use href="#p" x="481.5" y="458.5"/><use href="#p" x="482.5" y="459.5"/><use href="#p" x="483.5" y="456.5"/><use href="#p" x="484.5" y="458.5"/><use href="#p" x="484.5" y="459.5"/><use href="#p" x="485.5" y="458.5"/><use href="#p" x="486.5" y="458.5"/><use href="#p" x="486.5" y="457.5"/><use href="#p" x="487.5" y="458.5"/><use href="#p" x="487.5" y="458.5"/><use href="#p" x="487.5" y="456.5"/><use href="#p" x="488.5" y="458.5"/><use href="#p" x="489.5" y="458.5"/><use href="#p" x="490.5" y="458.5"/><use href="#p" x="490.5" y="458.5"/><use href="#p" x="491.5" y="458.5"/><use href="#p" x="492.5" y="458.5"/><use href="#p" x="492.5" y="458.5"/><use href="#p" x="493.5" y="459.5"/><use href="#p" x="493.5" y="458.5"/><use href="#p" x="493.5" y="458.5"/><use href="#p" x="494.5" y="458.5"/><use href="#p" x="494.5" y="456.5"/><use href="#p" x="494.5" y="458.5"/><use href="#p" x="494.5" y="458.5"/><use href="#p" x="495.5" y="458.5"/><use href="#p" x="496.5" y="458.5"/><use href="#p" x="496.5" y="458.5"/><use href="#p" x="497.5" y="456.5"/><use href="#p" x="497.5" y="458.5"/><use href="#p" x="498.5" y="458.5"/><use href="#p" x="499.5" y="458.5"/><use href="#p" x="500.5" y="458.5"/><use href="#p" x="500.5" y="458.5"/><use href="#p" x="501.5" y="458.5"/><use href="#p" x="502.5" y="457.5"/><use href="#p" x="503.5" y="458.5"/><use href="#p" x="503.5" y="458.5"/><use href="#p" x="504.5" y="458.5"/><use href="#p" x="504.5" y="458.5"/><use href="#p" x="504.5" y="458.5"/><use href="#p" x="505.5" y="459.5"/><use href="#p" x="506.5" y="458.5"/><use href="#p" x="506.5" y="459.5"/><use href="#p" x="506.5" y="457.5"/><use href="#p" x="507.5" y="458.5"/><use href="#p" x="508.5" y="459.5"/><use href="#p" x="509.5" y="458.5"/><use href="#p" x="509.5" y="456.5"/><use href="#p" x="510.5" y="458.5"/><use href="#p" x="510.5" y="456.5"/><use href="#p" x="511.5" y="458.5"/><use href="#p" x="511.5" y="459.5"/><use href="#p" x="512.5" y="458.5"/><use href="#p" x="512.5" y="458.5"/><use href="#p" x="513.5" y="458.5"/><use href="#p" x="513.5" y="459.5"/><use href="#p" x="514.5" y="458.5"/><use href="#p" x="514.5" y="458.5"/><use href="#p" x="514.5" y="459.5"/><use href="#p" x="515.5" y="458.5"/><use href="#p" x="515.5" y="458.5"/><use href="#p" x="516.5" y="459.5"/><use href="#p" x="517.5" y="458.5"/><use href="#p" x="517.5" y="458.5"/><use href="#p" x="518.5" y="457.5"/><use href="#p" x="519.5" y="458.5"/><use href="#p" x="519.5" y="458.5"/><use href="#p" x="520.5" y="458.5"/><use href="#p" x="520.5" y="457.5"/><use href="#p" x="520.5" y="458.5"/><use href="#p" x="521.5" y="457.5"/><use href="#p" x="522.5" y="458.5"/><use href="#p" x="522.5" y="456.5"/><use href="#p" x="523.5" y="458.5"/><use href="#p" x="523.5" y="458.5"/><use href="#p" x="524.5" y="458.5"/><use href="#p" x="525.5" y="457.5"/><use href="#p" x="526.5" y="458.5"/><use href="#p" x="526.5" y="459.5"/><use href="#p" x="527.5" y="458.5"/><use href="#p" x="528.5" y="459.5"/><use href="#p" x="528.5" y="458.5"/><use href="#p" x="528.5" y="458.5"/><use href="#p" x="529.5" y="459.5"/><use href="#p" x="530.5" y="458.5"/><use href="#p" x="531.5" y="458.5"/><use href="#p" x="531.5" y="457.5"/><use href="#p" x="532.5" y="458.5"/><use href="#p" x="532.5" y="458.5"/><use href="#p" x="533.5" y="457.5"/><use href="#p" x="533.5" y="458.5"/><use href="#p" x="534.5" y="458.5"/><use href="#p" x="535.5" y="459.5"/><use href="#p" x="535.5" y="458.5"/><use href="#p" x="536.5" y="458.5"/><use href="#p" x="536.5" y="458.5"/><use href="#p" x="537.5" y="459.5"/><use href="#p" x="537.5" y="459.5"/><use href="#p" x="538.5" y="458.5"/><use href="#p" x="538.5" y="458.5"/><use href="#p" x="539.5" y="458.5"/><use href="#p" x="540.5" y="458.5"/><use href="#p" x="541.5" y="458.5"/><use href="#p" x="541.5" y="456.5"/><use href="#p" x="541.5" y="458.5"/><use href="#p" x="542.5" y="458.5"/><use href="#p" x="542.5" y="458.5"/><use href="#p" x="543.5" y="459.5"/><use href="#p" x="544.5" y="458.5"/><use href="#p" x="545.5" y="458.5"/><use href="#p" x="546.5" y="458.5"/><use href="#p" x="546.5" y="459.5"/><use href="#p" x="547.5" y="458.5"/><use href="#p" x="548.5" y="458.5"/><use href="#p" x="549.5" y="456.5"/><use href="#p" x="549.5" y="458.5"/><use href="#p" x="550.5" y="459.5"/><use href="#p" x="551.5" y="458.5"/><use href="#p" x="551.5" y="458.5"/><use href="#p" x="552.5" y="458.5"/><use href="#p" x="553.5" y="458.5"/><use href="#p" x="554.5" y="458.5"/><use href="#p" x="554.5" y="458.5"/><use href="#p" x="555.5" y="458.5"/><use href="#p" x="555.5" y="459.5"/><use href="#p" x="555.5" y="458.5"/><use href="#p" x="556.5" y="458.5"/><use href="#p" x="557.5" y="458.5"/><use href="#p" x="557.5" y="458.5"/><use href="#p" x="558.5" y="459.5"/><use href="#p" x="559.5" y="458.5"/><use href="#p" x="559.5" y="458.5"/><use href="#p" x="560.5" y="457.5"/><use href="#p" x="561.5" y="458.5"/><use href="#p" x="561.5" y="456.5"/><use href="#p" x="562.5" y="456.5"/><use href="#p" x="563.5" y="459.5"/><use href="#p" x="564.5" y="456.5"/><use href="#p" x="564.5" y="458.5"/><use href="#p" x="565.5" y="458.5"/><use href="#p" x="565.5" y="459.5"/><use href="#p" x="566.5" y="456.5"/><use href="#p" x="566.5" y="459.5"/><use href="#p" x="566.5" y="459.5"/><use href="#p" x="567.5" y="459.5"/><use href="#p" x="567.5" y="458.5"/><use href="#p" x="568.5" y="457.5"/><use href="#p" x="569.5" y="459.5"/><use href="#p" x="570.5" y="457.5"/><use href="#p" x="570.5" y="457.5"/><use href="#p" x="571.5" y="457.5"/><use href="#p" x="572.5" y="457.5"/><use href="#p" x="573.5" y="459.5"/><use href="#p" x="574.5" y="455.5"/><use href="#p" x="574.5" y="459.5"/><use href="#p" x="575.5" y="459.5"/><use href="#p" x="576.5" y="459.5"/><use href="#p" x="576.5" y="457.5"/><use href="#p" x="577.5" y="457.5"/><use href="#p" x="578.5" y="457.5"/><use href="#p" x="578.5" y="458.5"/><use href="#p" x="579.5" y="457.5"/><use href="#p" x="580.5" y="459.5"/><use href="#p" x="580.5" y="459.5"/><use href="#p" x="581.5" y="457.5"/><use href="#p" x="582.5" y="460.5"/><use href="#p" x="582.5" y="458.5"/><use href="#p" x="583.5" y="458.5"/><use href="#p" x="583.5" y="458.5"/><use href="#p" x="584.5" y="456.5"/><use href="#p" x="584.5" y="456.5"/><use href="#p" x="584.5" y="458.5"/><use href="#p" x="585.5" y="456.5"/><use href="#p" x="586.5" y="456.5"/><use href="#p" x="587.5" y="458.5"/><use href="#p" x="588.5" y="456.5"/><use href="#p" x="588.5" y="457.5"/><use href="#p" x="589.5" y="456.5"/><use href="#p" x="590.5" y="457.5"/><use href="#p" x="590.5" y="457.5"/><use href="#p" x="591.5" y="458.5"/><use href="#p" x="591.5" y="458.5"/><use href="#p" x="592.5" y="457.5"/><use href="#p" x="592.5" y="458.5"/><use href="#p" x="593.5" y="457.5"/><use href="#p" x="594.5" y="457.5"/><use href="#p" x="595.5" y="457.5"/><use href="#p" x="595.5" y="459.5"/><use href="#p" x="596.5" y="455.5"/><use href="#p" x="597.5" y="459.5"/><use href="#p" x="598.5" y="458.5"/><use href="#p" x="599.5" y="458.5"/><use href="#p" x="600.5" y="458.5"/><use href="#p" x="600.5" y="459.5"/><use href="#p" x="601.5" y="457.5"/><use href="#p" x="602.5" y="458.5"/><use href="#p" x="602.5" y="456.5"/><use href="#p" x="603.5" y="458.5"/><use href="#p" x="604.5" y="456.5"/><use href="#p" x="604.5" y="457.5"/><use href="#p" x="605.5" y="460.5"/><use href="#p" x="605.5" y="456.5"/><use href="#p" x="605.5" y="458.5"/><use href="#p" x="606.5" y="458.5"/><use href="#p" x="607.5" y="457.5"/><use href="#p" x="607.5" y="458.5"/><use href="#p" x="608.5" y="457.5"/><use href="#p" x="609.5" y="458.5"/><use href="#p" x="609.5" y="457.5"/><use href="#p" x="610.5" y="457.5"/><use href="#p" x="610.5" y="458.5"/><use href="#p" x="611.5" y="456.5"/><use href="#p" x="612.5" y="457.5"/><use href="#p" x="612.5" y="456.5"/><use href="#p" x="613.5" y="456.5"/><use href="#p" x="613.5" y="459.5"/><use href="#p" x="614.5" y="457.5"/><use href="#p" x="615.5" y="457.5"/><use href="#p" x="615.5" y="458.5"/><use href="#p" x="616.5" y="458.5"/><use href="#p" x="617.5" y="456.5"/><use href="#p" x="618.5" y="458.5"/><use href="#p" x="618.5" y="457.5"/><use href="#p" x="618.5" y="458.5"/><use href="#p" x="619.5" y="458.5"/><use href="#p" x="620.5" y="459.5"/><use href="#p" x="621.5" y="458.5"/><use href="#p" x="621.5" y="459.5"/><use href="#p" x="622.5" y="458.5"/><use href="#p" x="622.5" y="458.5"/><use href="#p" x="623.5" y="456.5"/><use href="#p" x="624.5" y="456.5"/><use href="#p" x="625.5" y="458.5"/><use href="#p" x="625.5" y="457.5"/><use href="#p" x="626.5" y="458.5"/><use href="#p" x="627.5" y="458.5"/><use href="#p" x="628.5" y="457.5"/><use href="#p" x="628.5" y="457.5"/><use href="#p" x="629.5" y="458.5"/><use href="#p" x="629.5" y="457.5"/><use href="#p" x="629.5" y="457.5"/><use href="#p" x="630.5" y="457.5"/><use href="#p" x="630.5" y="458.5"/><use href="#p" x="631.5" y="457.5"/><use href="#p" x="632.5" y="457.5"/><use href="#p" x="632.5" y="457.5"/><use href="#p" x="633.5" y="457.5"/><use href="#p" x="633.5" y="455.5"/><use href="#p" x="634.5" y="458.5"/><use href="#p" x="634.5" y="456.5"/><use href="#p" x="634.5" y="458.5"/><use href="#p" x="635.5" y="456.5"/><use href="#p" x="636.5" y="455.5"/><use href="#p" x="636.5" y="457.5"/><use href="#p" x="636.5" y="457.5"/><use href="#p" x="637.5" y="458.5"/><use href="#p" x="637.5" y="458.5"/><use href="#p" x="638.5" y="456.5"/><use href="#p" x="638.5" y="455.5"/><use href="#p" x="639.5" y="459.5"/><use href="#p" x="640.5" y="464.5"/><use href="#p" x="640.5" y="457.5"/><use href="#p" x="641.5" y="459.5"/><use href="#p" x="641.5" y="462.5"/><use href="#p" x="642.5" y="458.5"/><use href="#p" x="643.5" y="456.5"/><use href="#p" x="644.5" y="456.5"/><use href="#p" x="644.5" y="457.5"/><use href="#p" x="645.5" y="460.5"/><use href="#p" x="646.5" y="456.5"/><use href="#p" x="647.5" y="456.5"/><use href="#p" x="648.5" y="458.5"/><use href="#p" x="649.5" y="460.5"/><use href="#p" x="649.5" y="462.5"/><use href="#p" x="650.5" y="454.5"/><use href="#p" x="651.5" y="456.5"/><use href="#p" x="652.5" y="460.5"/><use href="#p" x="652.5" y="460.5"/><use href="#p" x="653.5" y="457.5"/><use href="#p" x="654.5" y="462.5"/><use href="#p" x="655.5" y="467.5"/><use href="#p" x="656.5" y="453.5"/><use href="#p" x="657.5" y="460.5"/><use href="#p" x="657.5" y="457.5"/><use href="#p" x="658.5" y="455.5"/><use href="#p" x="659.5" y="463.5"/><use href="#p" x="660.5" y="462.5"/><use href="#p" x="661.5" y="460.5"/><use href="#p" x="662.5" y="461.5"/><use href="#p" x="663.5" y="455.5"/><use href="#p" x="664.5" y="453.5"/><use href="#p" x="664.5" y="457.5"/><use href="#p" x="665.5" y="459.5"/><use href="#p" x="667.5" y="459.5"/><use href="#p" x="667.5" y="454.5"/><use href="#p" x="668.5" y="460.5"/><use href="#p" x="669.5" y="459.5"/><use href="#p" x="670.5" y="458.5"/><use href="#p" x="670.5" y="461.5"/><use href="#p" x="671.5" y="457.5"/><use href="#p" x="672.5" y="456.5"/><use href="#p" x="672.5" y="457.5"/><use href="#p" x="672.5" y="454.5"/><use href="#p" x="673.5" y="456.5"/><use href="#p" x="675.5" y="457.5"/><use href="#p" x="675.5" y="457.5"/><use href="#p" x="676.5" y="460.5"/><use href="#p" x="677.5" y="458.5"/><use href="#p" x="678.5" y="459.5"/><use href="#p" x="678.5" y="457.5"/><use href="#p" x="679.5" y="457.5"/><use href="#p" x="680.5" y="455.5"/><use href="#p" x="680.5" y="454.5"/><use href="#p" x="680.5" y="461.5"/><use href="#p" x="681.5" y="459.5"/><use href="#p" x="681.5" y="454.5"/><use href="#p" x="682.5" y="458.5"/><use href="#p" x="683.5" y="458.5"/><use href="#p" x="684.5" y="458.5"/><use href="#p" x="685.5" y="461.5"/><use href="#p" x="686.5" y="459.5"/><use href="#p" x="687.5" y="457.5"/><use href="#p" x="688.5" y="459.5"/><use href="#p" x="689.5" y="459.5"/><use href="#p" x="690.5" y="461.5"/><use href="#p" x="692.5" y="459.5"/><use href="#p" x="692.5" y="459.5"/><use href="#p" x="693.5" y="461.5"/><use href="#p" x="693.5" y="458.5"/><use href="#p" x="694.5" y="458.5"/><use href="#p" x="695.5" y="451.5"/><use href="#p" x="695.5" y="461.5"/><use href="#p" x="696.5" y="458.5"/><use href="#p" x="697.5" y="460.5"/><use href="#p" x="698.5" y="464.5"/><use href="#p" x="699.5" y="455.5"/><use href="#p" x="700.5" y="453.5"/><use href="#p" x="701.5" y="456.5"/><use href="#p" x="702.5" y="455.5"/><use href="#p" x="703.5" y="457.5"/><use href="#p" x="704.5" y="462.5"/><use href="#p" x="705.5" y="455.5"/><use href="#p" x="705.5" y="459.5"/><use href="#p" x="706.5" y="456.5"/><use href="#p" x="707.5" y="459.5"/><use href="#p" x="708.5" y="457.5"/><use href="#p" x="708.5" y="460.5"/><use href="#p" x="709.5" y="455.5"/><use href="#p" x="710.5" y="461.5"/><use href="#p" x="710.5" y="461.5"/><use href="#p" x="712.5" y="458.5"/><use href="#p" x="713.5" y="455.5"/><use href="#p" x="713.5" y="457.5"/><use href="#p" x="714.5" y="458.5"/><use href="#p" x="715.5" y="457.5"/><use href="#p" x="716.5" y="457.5"/><use href="#p" x="717.5" y="456.5"/><use href="#p" x="718.5" y="453.5"/><use href="#p" x="719.5" y="457.5"/><use href="#p" x="323.5" y="458.5"/><use href="#p" x="324.5" y="458.5"/><use href="#p" x="325.5" y="458.5"/><use href="#p" x="327.5" y="458.5"/><use href="#p" x="328.5" y="458.5"/><use href="#p" x="329.5" y="458.5"/><use href="#p" x="331.5" y="458.5"/><use href="#p" x="332.5" y="458.5"/><use href="#p" x="333.5" y="458.5"/><use href="#p" x="335.5" y="458.5"/><use href="#p" x="336.5" y="458.5"/><use href="#p" x="337.5" y="458.5"/><use href="#p" x="339.5" y="458.5"/><use href="#p" x="340.5" y="458.5"/><use href="#p" x="341.5" y="458.5"/><use href="#p" x="342.5" y="458.5"/><use href="#p" x="343.5" y="458.5"/><use href="#p" x="344.5" y="458.5"/><use href="#p" x="346.5" y="458.5"/><use href="#p" x="348.5" y="458.5"/><use href="#p" x="349.5" y="458.5"/><use href="#p" x="351.5" y="458.5"/><use href="#p" x="352.5" y="458.5"/><use href="#p" x="353.5" y="458.5"/><use href="#p" x="355.5" y="458.5"/><use href="#p" x="356.5" y="458.5"/><use href="#p" x="358.5" y="458.5"/><use href="#p" x="359.5" y="458.5"/><use href="#p" x="360.5" y="458.5"/><use href="#p" x="361.5" y="458.5"/><use href="#p" x="362.5" y="458.5"/><use href="#p" x="364.5" y="458.5"/><use href="#p" x="365.5" y="458.5"/><use href="#p" x="367.5" y="458.5"/><use href="#p" x="368.5" y="458.5"/><use href="#p" x="369.5" y="458.5"/><use href="#p" x="371.5" y="458.5"/><use href="#p" x="371.5" y="458.5"/><use href="#p" x="373.5" y="458.5"/><use href="#p" x="375.5" y="458.5"/><use href="#p" x="376.5" y="458.5"/><use href="#p" x="377.5" y="458.5"/><use href="#p" x="378.5" y="458.5"/><use href="#p" x="380.5" y="458.5"/><use href="#p" x="381.5" y="458.5"/><use href="#p" x="383.5" y="458.5"/><use href="#p" x="384.5" y="458.5"/><use href="#p" x="385.5" y="458.5"/><use href="#p" x="386.5" y="458.5"/><use href="#p" x="388.5" y="458.5"/><use href="#p" x="389.5" y="458.5"/><use href="#p" x="390.5" y="458.5"/><use href="#p" x="392.5" y="458.5"/><use href="#p" x="393.5" y="458.5"/><use href="#p" x="394.5" y="458.5"/><use href="#p" x="395.5" y="458.5"/><use href="#p" x="396.5" y="458.5"/><use href="#p" x="398.5" y="458.5"/><use href="#p" x="400.5" y="458.5"/><use href="#p" x="400.5" y="458.5"/><use href="#p" x="401.5" y="458.5"/><use href="#p" x="403.5" y="458.5"/><use href="#p" x="405.5" y="458.5"/><use href="#p" x="406.5" y="458.5"/><use href="#p" x="407.5" y="458.5"/><use href="#p" x="408.5" y="458.5"/><use href="#p" x="409.5" y="458.5"/><use href="#p" x="411.5" y="458.5"/><use href="#p" x="413.5" y="458.5"/><use href="#p" x="414.5" y="458.5"/><use href="#p" x="415.5" y="458.5"/><use href="#p" x="417.5" y="458.5"/><use href="#p" x="419.5" y="458.5"/><use href="#p" x="420.5" y="458.5"/><use href="#p" x="420.5" y="458.5"/><use href="#p" x="422.5" y="458.5"/><use href="#p" x="424.5" y="458.5"/><use href="#p" x="425.5" y="458.5"/><use href="#p" x="426.5" y="458.5"/><use href="#p" x="427.5" y="458.5"/><use href="#p" x="429.5" y="458.5"/><use href="#p" x="430.5" y="458.5"/><use href="#p" x="430.5" y="458.5"/><use href="#p" x="431.5" y="458.5"/><use href="#p" x="432.5" y="458.5"/><use href="#p" x="433.5" y="458.5"/><use href="#p" x="435.5" y="458.5"/><use href="#p" x="436.5" y="458.5"/><use href="#p" x="438.5" y="458.5"/><use href="#p" x="440.5" y="458.5"/><use href="#p" x="441.5" y="458.5"/><use href="#p" x="442.5" y="458.5"/><use href="#p" x="443.5" y="458.5"/><use href="#p" x="444.5" y="458.5"/><use href="#p" x="446.5" y="458.5"/><use href="#p" x="447.5" y="458.5"/><use href="#p" x="448.5" y="458.5"/><use href="#p" x="449.5" y="458.5"/><use href="#p" x="450.5" y="458.5"/><use href="#p" x="451.5" y="458.5"/><use href="#p" x="452.5" y="458.5"/><use href="#p" x="453.5" y="458.5"/><use href="#p" x="454.5" y="458.5"/><use href="#p" x="455.5" y="458.5"/><use href="#p" x="457.5" y="458.5"/><use href="#p" x="457.5" y="458.5"/><use href="#p" x="458.5" y="458.5"/><use href="#p" x="459.5" y="458.5"/><use href="#p" x="460.5" y="458.5"/><use href="#p" x="461.5" y="458.5"/><use href="#p" x="463.5" y="458.5"/><use href="#p" x="370.5" y="471.5"/></g>
<g stroke="#0000ff" stroke-width="0.69" fill="none"><use href="#x" x="421.5" y="264.5"/><use href="#x" x="448.5" y="255.5"/><use href="#x" x="450.5" y="260.5"/><use href="#x" x="450.5" y="284.5"/><use href="#x" x="401.5" y="318.5"/><use href="#x" x="421.5" y="356.5"/><use href="#x" x="409.5" y="395.5"/><use href="#x" x="440.5" y="319.5"/><use href="#x" x="459.5" y="327.5"/><use href="#x" x="437.5" y="406.5"/><use href="#x" x="443.5" y="405.5"/><use href="#x" x="448.5" y="400.5"/><use href="#x" x="449.5" y="401.5"/><use href="#x" x="457.5" y="407.5"/><use href="#x" x="458.5" y="419.5"/><use href="#x" x="424.5" y="409.5"/><use href="#x" x="401.5" y="450.5"/><use href="#x" x="458.5" y="450.5"/><use href="#x" x="403.5" y="451.5"/><use href="#x" x="322.5" y="458.5"/><use href="#x" x="327.5" y="457.5"/><use href="#x" x="370.5" y="471.5"/><use href="#x" x="331.5" y="458.5"/><use href="#x" x="333.5" y="458.5"/><use href="#x" x="334.5" y="458.5"/><use href="#x" x="334.5" y="458.5"/><use href="#x" x="334.5" y="457.5"/><use href="#x" x="335.5" y="457.5"/><use href="#x" x="335.5" y="458.5"/><use href="#x" x="335.5" y="457.5"/><use href="#x" x="336.5" y="457.5"/><use href="#x" x="336.5" y="457.5"/><use href="#x" x="336.5" y="458.5"/><use href="#x" x="337.5" y="458.5"/><use href="#x" x="337.5" y="457.5"/><use href="#x" x="338.5" y="458.5"/><use href="#x" x="338.5" y="457.5"/><use href="#x" x="338.5" y="457.5"/><use href="#x" x="339.5" y="458.5"/><use href="#x" x="339.5" y="457.5"/><use href="#x" x="340.5" y="457.5"/><use href="#x" x="340.5" y="458.5"/><use href="#x" x="340.5" y="457.5"/><use href="#x" x="341.5" y="458.5"/><use href="#x" x="341.5" y="457.5"/><use href="#x" x="341.5" y="458.5"/><use href="#x" x="342.5" y="457.5"/><use href="#x" x="342.5" y="457.5"/><use href="#x" x="342.5" y="458.5"/><use href="#x" x="343.5" y="457.5"/><use href="#x" x="343.5" y="457.5"/><use href="#x" x="344.5" y="457.5"/><use href="#x" x="344.5" y="457.5"/><use href="#x" x="344.5" y="458.5"/><use href="#x" x="345.5" y="457.5"/><use href="#x" x="345.5" y="458.5"/><use href="#x" x="345.5" y="458.5"/><use href="#x" x="345.5" y="458.5"/><use href="#x" x="346.5" y="458.5"/><use href="#x" x="346.5" y="457.5"/><use href="#x" x="347.5" y="457.5"/><use href="#x" x="347.5" y="458.5"/><use href="#x" x="347.5" y="458.5"/><use href="#x" x="348.5" y="457.5"/><use href="#x" x="348.5" y="457.5"/><use href="#x" x="348.5" y="457.5"/><use href="#x" x="348.5" y="457.5"/><use href="#x" x="349.5" y="457.5"/><use href="#x" x="349.5" y="458.5"/><use href="#x" x="350.5" y="457.5"/><use href="#x" x="350.5" y="457.5"/><use href="#x" x="350.5" y="458.5"/><use href="#x" x="351.5" y="457.5"/><use href="#x" x="351.5" y="457.5"/><use href="#x" x="352.5" y="457.5"/><use href="#x" x="352.5" y="457.5"/><use href="#x" x="352.5" y="458.5"/><use href="#x" x="352.5" y="458.5"/><use href="#x" x="353.5" y="457.5"/><use href="#x" x="353.5" y="458.5"/><use href="#x" x="353.5" y="457.5"/><use href="#x" x="354.5" y="457.5"/><use href="#x" x="354.5" y="458.5"/><use href="#x" x="354.5" y="458.5"/><use href="#x" x="354.5" y="457.5"/><use href="#x" x="355.5" y="457.5"/><use href="#x" x="355.5" y="457.5"/><use href="#x" x="355.5" y="457.5"/><use href="#x" x="356.5" y="457.5"/><use href="#x" x="356.5" y="457.5"/><use href="#x" x="356.5" y="457.5"/><use href="#x" x="357.5" y="458.5"/><use href="#x" x="357.5" y="458.5"/><use href="#x" x="357.5" y="458.5"/><use href="#x" x="358.5" y="457.5"/><use href="#x" x="358.5" y="457.5"/><use href="#x" x="358.5" y="457.5"/><use href="#x" x="359.5" y="458.5"/><use href="#x" x="359.5" y="457.5"/><use href="#x" x="360.5" y="458.5"/><use href="#x" x="360.5" y="457.5"/><use href="#x" x="360.5" y="457.5"/><use href="#x" x="361.5" y="457.5"/><use href="#x" x="361.5" y="457.5"/><use href="#x" x="362.5" y="458.5"/><use href="#x" x="362.5" y="457.5"/><use href="#x" x="362.5" y="458.5"/><use href="#x" x="362.5" y="457.5"/><use href="#x" x="363.5" y="458.5"/><use href="#x" x="363.5" y="458.5"/><use href="#x" x="363.5" y="458.5"/><use href="#x" x="363.5" y="458.5"/><use href="#x" x="364.5" y="458.5"/><use href="#x" x="364.5" y="457.5"/><use href="#x" x="364.5" y="457.5"/><use href="#x" x="365.5" y="457.5"/><use href="#x" x="365.5" y="457.5"/><use href="#x" x="366.5" y="458.5"/><use href="#x" x="366.5" y="457.5"/><use href="#x" x="366.5" y="457.5"/><use href="#x" x="367.5" y="458.5"/><use href="#x" x="367.5" y="457.5"/><use href="#x" x="368.5" y="457.5"/><use href="#x" x="368.5" y="457.5"/><use href="#x" x="368.5" y="457.5"/><use href="#x" x="369.5" y="458.5"/><use href="#x" x="369.5" y="457.5"/><use href="#x" x="370.5" y="457.5"/><use href="#x" x="370.5" y="457.5"/><use href="#x" x="370.5" y="458.5"/><use href="#x" x="371.5" y="457.5"/><use href="#x" x="371.5" y="457.5"/><use href="#x" x="372.5" y="458.5"/><use href="#x" x="372.5" y="457.5"/><use href="#x" x="372.5" y="457.5"/><use href="#x" x="373.5" y="458.5"/><use href="#x" x="373.5" y="458.5"/><use href="#x" x="373.5" y="457.5"/><use href="#x" x="374.5" y="458.5"/><use href="#x" x="375.5" y="458.5"/><use href="#x" x="375.5" y="457.5"/><use href="#x" x="375.5" y="458.5"/><use href="#x" x="376.5" y="457.5"/><use href="#x" x="376.5" y="457.5"/><use href="#x" x="376.5" y="457.5"/><use href="#x" x="377.5" y="457.5"/><use href="#x" x="377.5" y="457.5"/><use href="#x" x="378.5" y="458.5"/><use href="#x" x="378.5" y="458.5"/><use href="#x" x="378.5" y="458.5"/><use href="#x" x="379.5" y="457.5"/><use href="#x" x="379.5" y="458.5"/><use href="#x" x="379.5" y="457.5"/><use href="#x" x="380.5" y="458.5"/><use href="#x" x="380.5" y="458.5"/><use href="#x" x="380.5" y="458.5"/><use href="#x" x="381.5" y="458.5"/><use href="#x" x="381.5" y="458.5"/><use href="#x" x="381.5" y="457.5"/><use href="#x" x="382.5" y="457.5"/><use href="#x" x="382.5" y="457.5"/><use href="#x" x="382.5" y="458.5"/><use href="#x" x="382.5" y="457.5"/><use href="#x" x="383.5" y="457.5"/><use href="#x" x="383.5" y="457.5"/><use href="#x" x="384.5" y="457.5"/><use href="#x" x="384.5" y="457.5"/><use href="#x" x="385.5" y="458.5"/><use href="#x" x="385.5" y="457.5"/><use href="#x" x="385.5" y="458.5"/><use href="#x" x="386.5" y="458.5"/><use href="#x" x="386.5" y="458.5"/><use href="#x" x="386.5" y="458.5"/><use href="#x" x="387.5" y="457.5"/><use href="#x" x="387.5" y="458.5"/><use href="#x" x="388.5" y="458.5"/><use href="#x" x="388.5" y="458.5"/><use href="#x" x="389.5" y="457.5"/><use href="#x" x="389.5" y="457.5"/><use href="#x" x="389.5" y="458.5"/><use href="#x" x="390.5" y="458.5"/><use href="#x" x="390.5" y="458.5"/><use href="#x" x="390.5" y="458.5"/><use href="#x" x="390.5" y="458.5"/><use href="#x" x="391.5" y="458.5"/><use href="#x" x="391.5" y="457.5"/><use href="#x" x="391.5" y="457.5"/><use href="#x" x="392.5" y="457.5"/><use href="#x" x="392.5" y="457.5"/><use href="#x" x="392.5" y="458.5"/><use href="#x" x="393.5" y="458.5"/><use href="#x" x="393.5" y="458.5"/><use href="#x" x="393.5" y="457.5"/><use href="#x" x="394.5" y="457.5"/><use href="#x" x="394.5" y="457.5"/><use href="#x" x="394.5" y="458.5"/><use href="#x" x="395.5" y="457.5"/><use href="#x" x="395.5" y="457.5"/><use href="#x" x="395.5" y="458.5"/><use href="#x" x="396.5" y="457.5"/><use href="#x" x="396.5" y="457.5"/><use href="#x" x="396.5" y="458.5"/><use href="#x" x="396.5" y="457.5"/><use href="#x" x="397.5" y="457.5"/><use href="#x" x="397.5" y="457.5"/><use href="#x" x="397.5" y="458.5"/><use href="#x" x="398.5" y="458.5"/><use href="#x" x="398.5" y="458.5"/><use href="#x" x="398.5" y="457.5"/><use href="#x" x="399.5" y="458.5"/><use href="#x" x="399.5" y="458.5"/><use href="#x" x="400.5" y="458.5"/><use href="#x" x="400.5" y="458.5"/><use href="#x" x="401.5" y="457.5"/><use href="#x" x="401.5" y="458.5"/><use href="#x" x="401.5" y="457.5"/><use href="#x" x="402.5" y="458.5"/><use href="#x" x="402.5" y="457.5"/><use href="#x" x="403.5" y="458.5"/><use href="#x" x="403.5" y="458.5"/><use href="#x" x="403.5" y="457.5"/><use href="#x" x="404.5" y="458.5"/><use href="#x" x="404.5" y="458.5"/><use href="#x" x="404.5" y="458.5"/><use href="#x" x="405.5" y="458.5"/><use href="#x" x="405.5" y="458.5"/><use href="#x" x="406.5" y="458.5"/><use href="#x" x="406.5" y="457.5"/><use href="#x" x="406.5" y="458.5"/><use href="#x" x="407.5" y="458.5"/><use href="#x" x="407.5" y="458.5"/><use href="#x" x="408.5" y="458.5"/><use href="#x" x="408.5" y="458.5"/><use href="#x" x="408.5" y="458.5"/><use href="#x" x="409.5" y="457.5"/><use href="#x" x="409.5" y="458.5"/><use href="#x" x="410.5" y="457.5"/><use href="#x" x="410.5" y="458.5"/><use href="#x" x="411.5" y="458.5"/><use href="#x" x="411.5" y="458.5"/><use href="#x" x="411.5" y="458.5"/><use href="#x" x="412.5" y="457.5"/><use href="#x" x="412.5" y="457.5"/><use href="#x" x="413.5" y="457.5"/><use href="#x" x="413.5" y="457.5"/><use href="#x" x="414.5" y="458.5"/><use href="#x" x="414.5" y="458.5"/><use href="#x" x="414.5" y="457.5"/><use href="#x" x="415.5" y="458.5"/><use href="#x" x="415.5" y="457.5"/><use href="#x" x="415.5" y="457.5"/><use href="#x" x="415.5" y="458.5"/><use href="#x" x="416.5" y="457.5"/><use href="#x" x="416.5" y="458.5"/><use href="#x" x="416.5" y="458.5"/><use href="#x" x="417.5" y="457.5"/><use href="#x" x="417.5" y="457.5"/><use href="#x" x="418.5" y="458.5"/><use href="#x" x="418.5" y="457.5"/><use href="#x" x="418.5" y="458.5"/><use href="#x" x="419.5" y="457.5"/><use href="#x" x="419.5" y="457.5"/><use href="#x" x="420.5" y="458.5"/><use href="#x" x="420.5" y="458.5"/><use href="#x" x="420.5" y="458.5"/><use href="#x" x="421.5" y="458.5"/><use href="#x" x="422.5" y="458.5"/><use href="#x" x="422.5" y="458.5"/><use href="#x" x="422.5" y="458.5"/><use href="#x" x="423.5" y="458.5"/><use href="#x" x="423.5" y="457.5"/><use href="#x" x="423.5" y="458.5"/><use href="#x" x="424.5" y="457.5"/><use href="#x" x="424.5" y="457.5"/><use href="#x" x="424.5" y="457.5"/><use href="#x" x="424.5" y="458.5"/><use href="#x" x="424.5" y="457.5"/><use href="#x" x="425.5" y="457.5"/><use href="#x" x="425.5" y="458.5"/><use href="#x" x="426.5" y="457.5"/><use href="#x" x="426.5" y="457.5"/><use href="#x" x="426.5" y="458.5"/><use href="#x" x="427.5" y="458.5"/><use href="#x" x="427.5" y="458.5"/><use href="#x" x="427.5" y="457.5"/><use href="#x" x="428.5" y="458.5"/><use href="#x" x="428.5" y="457.5"/><use href="#x" x="428.5" y="457.5"/><use href="#x" x="429.5" y="458.5"/><use href="#x" x="429.5" y="457.5"/><use href="#x" x="429.5" y="458.5"/><use href="#x" x="430.5" y="457.5"/><use href="#x" x="430.5" y="457.5"/><use href="#x" x="430.5" y="458.5"/><use href="#x" x="431.5" y="457.5"/><use href="#x" x="431.5" y="458.5"/><use href="#x" x="431.5" y="457.5"/><use href="#x" x="432.5" y="458.5"/><use href="#x" x="432.5" y="457.5"/><use href="#x" x="433.5" y="457.5"/><use href="#x" x="433.5" y="457.5"/><use href="#x" x="433.5" y="458.5"/><use href="#x" x="434.5" y="457.5"/><use href="#x" x="434.5" y="457.5"/><use href="#x" x="435.5" y="458.5"/><use href="#x" x="435.5" y="457.5"/><use href="#x" x="436.5" y="457.5"/><use href="#x" x="436.5" y="458.5"/><use href="#x" x="437.5" y="458.5"/><use href="#x" x="437.5" y="457.5"/><use href="#x" x="437.5" y="458.5"/><use href="#x" x="438.5" y="458.5"/><use href="#x" x="438.5" y="457.5"/><use href="#x" x="438.5" y="458.5"/><use href="#x" x="439.5" y="457.5"/><use href="#x" x="439.5" y="457.5"/><use href="#x" x="440.5" y="457.5"/><use href="#x" x="440.5" y="457.5"/><use href="#x" x="440.5" y="457.5"/><use href="#x" x="441.5" y="457.5"/><use href="#x" x="441.5" y="458.5"/><use href="#x" x="442.5" y="458.5"/><use href="#x" x="442.5" y="458.5"/><use href="#x" x="443.5" y="457.5"/><use href="#x" x="443.5" y="457.5"/><use href="#x" x="443.5" y="457.5"/><use href="#x" x="444.5" y="458.5"/><use href="#x" x="444.5" y="458.5"/><use href="#x" x="444.5" y="458.5"/><use href="#x" x="445.5" y="457.5"/><use href="#x" x="445.5" y="458.5"/><use href="#x" x="446.5" y="457.5"/><use href="#x" x="446.5" y="458.5"/><use href="#x" x="446.5" y="458.5"/><use href="#x" x="447.5" y="457.5"/><use href="#x" x="447.5" y="457.5"/><use href="#x" x="447.5" y="457.5"/><use href="#x" x="448.5" y="457.5"/><use href="#x" x="448.5" y="458.5"/><use href="#x" x="448.5" y="458.5"/><use href="#x" x="449.5" y="457.5"/><use href="#x" x="449.5" y="458.5"/><use href="#x" x="450.5" y="457.5"/><use href="#x" x="450.5" y="458.5"/><use href="#x" x="451.5" y="458.5"/><use href="#x" x="451.5" y="458.5"/><use href="#x" x="452.5" y="458.5"/><use href="#x" x="452.5" y="457.5"/><use href="#x" x="452.5" y="457.5"/><use href="#x" x="453.5" y="457.5"/><use href="#x" x="453.5" y="458.5"/><use href="#x" x="453.5" y="457.5"/><use href="#x" x="454.5" y="458.5"/><use href="#x" x="454.5" y="457.5"/><use href="#x" x="454.5" y="458.5"/><use href="#x" x="455.5" y="458.5"/><use href="#x" x="455.5" y="457.5"/><use href="#x" x="455.5" y="458.5"/><use href="#x" x="456.5" y="458.5"/><use href="#x" x="456.5" y="457.5"/><use href="#x" x="456.5" y="457.5"/><use href="#x" x="457.5" y="457.5"/><use href="#x" x="457.5" y="457.5"/><use href="#x" x="457.5" y="457.5"/><use href="#x" x="458.5" y="458.5"/><use href="#x" x="458.5" y="457.5"/><use href="#x" x="458.5" y="458.5"/><use href="#x" x="459.5" y="457.5"/><use href="#x" x="459.5" y="457.5"/><use href="#x" x="460.5" y="458.5"/><use href="#x" x="460.5" y="457.5"/><use href="#x" x="461.5" y="458.5"/><use href="#x" x="461.5" y="458.5"/><use href="#x" x="461.5" y="458.5"/><use href="#x" x="462.5" y="457.5"/></g>
<g fill="#000" stroke="#000" stroke-width="0.69">
<circle cx="370.6" cy="471.2" r="4.17"/>
<circle cx="350.0" cy="458.5" r="4.17"/>
<circle cx="351.2" cy="458.5" r="4.17"/>
<circle cx="352.4" cy="458.5" r="4.17"/>
<circle cx="353.6" cy="458.5" r="4.17"/>
<circle cx="354.8" cy="458.5" r="4.17"/>
<circle cx="356.0" cy="458.5" r="4.17"/>
<circle cx="365.0" cy="458.5" r="4.17"/>
<circle cx="366.2" cy="458.5" r="4.17"/>
<circle cx="367.4" cy="458.5" r="4.17"/>
<circle cx="368.6" cy="458.5" r="4.17"/>
<circle cx="369.8" cy="458.5" r="4.17"/>
<circle cx="371.0" cy="458.5" r="4.17"/>
<circle cx="372.2" cy="458.5" r="4.17"/>
<circle cx="373.4" cy="458.5" r="4.17"/>
<circle cx="388.0" cy="458.5" r="4.17"/>
<circle cx="389.2" cy="458.5" r="4.17"/>
<circle cx="390.4" cy="458.5" r="4.17"/>
<circle cx="408.0" cy="458.5" r="4.17"/>
<circle cx="409.2" cy="458.5" r="4.17"/>
<circle cx="410.4" cy="458.5" r="4.17"/>
<circle cx="411.6" cy="458.5" r="4.17"/>
<circle cx="412.8" cy="458.5" r="4.17"/>
<circle cx="414.0" cy="458.5" r="4.17"/>
<circle cx="415.2" cy="458.5" r="4.17"/>
<circle cx="416.4" cy="458.5" r="4.17"/>
<circle cx="417.6" cy="458.5" r="4.17"/>
<circle cx="418.8" cy="458.5" r="4.17"/>
<circle cx="420.0" cy="458.5" r="4.17"/>
<circle cx="421.2" cy="458.5" r="4.17"/>
<circle cx="422.4" cy="458.5" r="4.17"/>
<circle cx="423.6" cy="458.5" r="4.17"/>
<circle cx="424.8" cy="458.5" r="4.17"/>
<circle cx="426.0" cy="458.5" r="4.17"/>
<circle cx="427.2" cy="458.5" r="4.17"/>
<circle cx="428.4" cy="458.5" r="4.17"/>
<circle cx="429.6" cy="458.5" r="4.17"/>
<circle cx="430.8" cy="458.5" r="4.17"/>
<circle cx="432.0" cy="458.5" r="4.17"/>
<circle cx="433.2" cy="458.5" r="4.17"/>
</g>
<path d="M100.6 458.5H720" stroke="#0000ff" stroke-width="1.39" stroke-dasharray="8.33 8.33" fill="none"/>
</g>
<rect x="100.5" y="60.5" width="620" height="480" fill="none" stroke="#000" stroke-width="1.2"/>
<path d="M100.5 540v-5.2M183.5 540v-5.2M265.5 540v-5.2M348.5 540v-5.2M431.5 540v-5.2M513.5 540v-5.2M596.5 540v-5.2M679.5 540v-5.2M136.5 61v5.2M218.5 61v5.2M301.5 61v5.2M384.5 61v5.2M466.5 61v5.2M549.5 61v5.2M632.5 61v5.2M714.5 61v5.2M101 540.5h5.2M720 540.5h-5.2M101 420.5h5.2M720 420.5h-5.2M101 300.5h5.2M720 300.5h-5.2M101 180.5h5.2M720 180.5h-5.2M101 60.5h5.2M720 60.5h-5.2" stroke="#000" stroke-width="0.69" fill="none"/>
<g class="txt">
<text class="t12" transform="translate(100.5,559.8) scale(1,1.05)" text-anchor="middle" style="letter-spacing:-0.4px">−20</text>
<text class="t12" transform="translate(183.2,559.8) scale(1,1.05)" text-anchor="middle" style="letter-spacing:-0.4px">−18</text>
<text class="t12" transform="translate(265.8,559.8) scale(1,1.05)" text-anchor="middle" style="letter-spacing:-0.4px">−16</text>
<text class="t12" transform="translate(348.5,559.8) scale(1,1.05)" text-anchor="middle" style="letter-spacing:-0.4px">−14</text>
<text class="t12" transform="translate(431.2,559.8) scale(1,1.05)" text-anchor="middle" style="letter-spacing:-0.4px">−12</text>
<text class="t12" transform="translate(513.8,559.8) scale(1,1.05)" text-anchor="middle" style="letter-spacing:-0.4px">−10</text>
<text class="t12" transform="translate(596.5,559.8) scale(1,1.05)" text-anchor="middle" style="letter-spacing:-0.4px">−8</text>
<text class="t12" transform="translate(679.2,559.8) scale(1,1.05)" text-anchor="middle" style="letter-spacing:-0.4px">−6</text>
<text class="t12" transform="translate(135.9,49.8) scale(1,1.05)" text-anchor="middle" style="letter-spacing:-0.7px">14</text>
<text class="t12" transform="translate(218.6,49.8) scale(1,1.05)" text-anchor="middle" style="letter-spacing:-0.7px">16</text>
<text class="t12" transform="translate(301.3,49.8) scale(1,1.05)" text-anchor="middle" style="letter-spacing:-0.7px">18</text>
<text class="t12" transform="translate(383.9,49.8) scale(1,1.05)" text-anchor="middle" style="letter-spacing:-0.7px">20</text>
<text class="t12" transform="translate(466.6,49.8) scale(1,1.05)" text-anchor="middle" style="letter-spacing:-0.7px">22</text>
<text class="t12" transform="translate(549.3,49.8) scale(1,1.05)" text-anchor="middle" style="letter-spacing:-0.7px">24</text>
<text class="t12" transform="translate(631.9,49.8) scale(1,1.05)" text-anchor="middle" style="letter-spacing:-0.7px">26</text>
<text class="t12" transform="translate(714.6,49.8) scale(1,1.05)" text-anchor="middle" style="letter-spacing:-0.7px">28</text>
<text class="t12" transform="translate(94.9,544.8) scale(1,1.05)" text-anchor="end" style="letter-spacing:-0.4px">0</text>
<text class="t12" transform="translate(94.9,424.8) scale(1,1.05)" text-anchor="end" style="letter-spacing:-0.4px">5</text>
<text class="t12" transform="translate(94.9,304.8) scale(1,1.05)" text-anchor="end" style="letter-spacing:-0.4px">10</text>
<text class="t12" transform="translate(94.9,184.8) scale(1,1.05)" text-anchor="end" style="letter-spacing:-0.4px">15</text>
<text class="t12" transform="translate(94.9,64.8) scale(1,1.05)" text-anchor="end" style="letter-spacing:-0.4px">20</text>
<text class="t14" x="411.5" y="29" text-anchor="middle" style="letter-spacing:0.07px">FWHM vs magnitudes</text>
<text class="t12" x="411.5" y="583.7" text-anchor="middle" style="letter-spacing:0.03px">magnitude (bottom:isnt / top:calib)</text>
<text class="t12" transform="translate(63.4,299.5) rotate(-90)" text-anchor="middle" stroke="#000" stroke-width="0.1">FWHM (pix)</text>
</g>
<rect x="398.5" y="70.5" width="312" height="122" fill="#fff" stroke="#000" stroke-width="1.2"/>
<path d="M408.33 86.5h8.34M412.5 82.33v8.34M436.33 86.5h8.34M440.5 82.33v8.34" stroke="#00bfbf" stroke-width="0.69" fill="none"/>
<path d="M408.33 111.33l8.34 8.34M408.33 119.67l8.34 -8.34M436.33 111.33l8.34 8.34M436.33 119.67l8.34 -8.34" stroke="#0000ff" stroke-width="0.69" fill="none"/>
<g fill="#000" stroke="#000" stroke-width="0.69"><circle cx="412.5" cy="144.5" r="4.17"/><circle cx="440.5" cy="144.5" r="4.17"/></g>
<path d="M412.4 173.5H440.5" stroke="#0000ff" stroke-width="1.39" stroke-dasharray="8.33 8.33" fill="none"/>
<g class="txt">
<text class="t14" x="461.7" y="92.5">all sample</text>
<text class="t14" x="461.7" y="121.6">sample for rough FWHM</text>
<text class="t14" x="461.7" y="150.6">coarse PSF-like sample</text>
<text class="t14" x="461.7" y="179.7">tentative FWHM</text>
</g>
</svg></body></html>
